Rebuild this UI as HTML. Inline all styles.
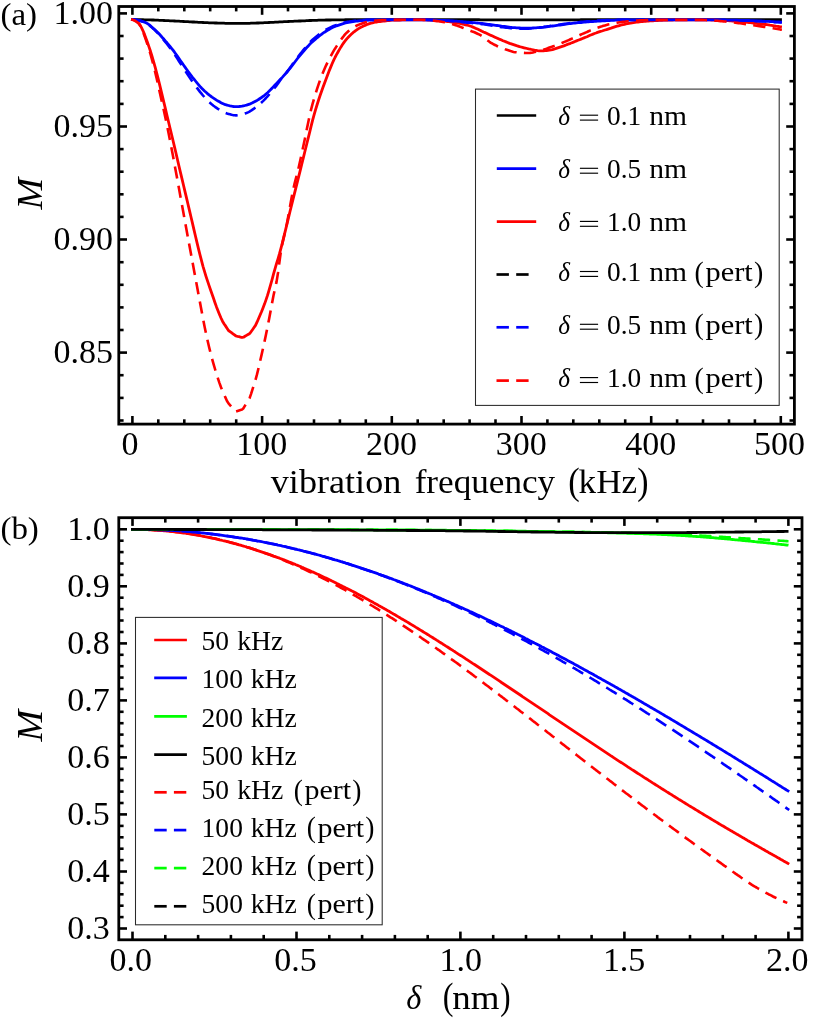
<!DOCTYPE html>
<html><head><meta charset="utf-8"><title>Figure</title>
<style>html,body{margin:0;padding:0;background:#fff;}svg{display:block;will-change:transform;}</style></head>
<body>
<svg width="830" height="1020" viewBox="0 0 830 1020" font-family='"Liberation Serif", serif' fill="#000">
<rect width="830" height="1020" fill="#fff"/>
<path d="M131.0 19.4 L132.5 19.5 L134.0 19.5 L135.5 19.6 L137.0 19.6 L138.5 19.6 L140.0 19.7 L141.5 19.7 L143.0 19.7 L144.5 19.8 L146.0 19.8 L147.5 19.8 L149.0 19.9 L150.5 19.9 L152.0 20.0 L153.5 20.0 L155.0 20.1 L156.5 20.2 L158.0 20.2 L159.5 20.3 L161.0 20.4 L162.5 20.4 L164.0 20.5 L165.5 20.6 L167.0 20.6 L168.5 20.7 L170.0 20.8 L171.5 20.8 L173.0 20.9 L174.5 21.0 L176.0 21.1 L177.5 21.2 L179.0 21.2 L180.5 21.3 L182.0 21.4 L183.5 21.5 L185.0 21.6 L186.5 21.6 L188.0 21.7 L189.5 21.8 L191.0 21.9 L192.5 22.0 L194.0 22.0 L195.5 22.1 L197.0 22.2 L198.5 22.3 L200.0 22.3 L201.5 22.4 L203.0 22.5 L204.5 22.6 L206.0 22.6 L207.5 22.7 L209.0 22.8 L210.5 22.8 L212.0 22.9 L213.5 22.9 L215.0 23.0 L216.5 23.0 L218.0 23.1 L219.5 23.1 L221.0 23.2 L222.5 23.2 L224.0 23.2 L225.5 23.3 L227.0 23.3 L228.5 23.3 L230.0 23.3 L231.5 23.4 L233.0 23.4 L234.5 23.4 L236.0 23.4 L237.5 23.4 L239.0 23.4 L240.5 23.4 L242.0 23.4 L243.5 23.4 L245.0 23.3 L246.5 23.3 L248.0 23.3 L249.5 23.3 L251.0 23.2 L252.5 23.2 L254.0 23.1 L255.5 23.1 L257.0 23.0 L258.5 23.0 L260.0 22.9 L261.5 22.9 L263.0 22.8 L264.5 22.7 L266.0 22.7 L267.5 22.6 L269.0 22.5 L270.5 22.4 L272.0 22.4 L273.5 22.3 L275.0 22.2 L276.5 22.1 L278.0 22.1 L279.5 21.9 L281.0 21.8 L282.5 21.8 L284.0 21.7 L285.5 21.6 L287.0 21.6 L288.5 21.5 L290.0 21.4 L291.5 21.3 L293.0 21.3 L294.5 21.2 L296.0 21.1 L297.5 21.1 L299.0 21.0 L300.5 21.0 L302.0 20.9 L303.5 20.8 L305.0 20.8 L306.5 20.7 L308.0 20.6 L309.5 20.5 L311.0 20.5 L312.5 20.4 L314.0 20.4 L315.5 20.3 L317.0 20.3 L318.5 20.2 L320.0 20.2 L321.5 20.2 L323.0 20.1 L324.5 20.1 L326.0 20.0 L327.5 20.0 L329.0 20.0 L330.5 20.0 L332.0 19.9 L333.5 19.9 L335.0 19.9 L336.5 19.9 L338.0 19.8 L339.5 19.8 L341.0 19.8 L342.5 19.8 L344.0 19.8 L345.5 19.7 L347.0 19.7 L348.5 19.7 L350.0 19.7 L351.5 19.7 L353.0 19.7 L354.5 19.7 L356.0 19.7 L357.5 19.7 L359.0 19.6 L360.5 19.6 L362.0 19.6 L363.5 19.6 L365.0 19.6 L366.5 19.6 L368.0 19.6 L369.5 19.6 L371.0 19.6 L372.5 19.6 L374.0 19.6 L375.5 19.6 L377.0 19.6 L378.5 19.6 L380.0 19.6 L381.5 19.6 L383.0 19.6 L384.5 19.6 L386.0 19.6 L387.5 19.6 L389.0 19.6 L390.5 19.6 L392.0 19.6 L393.5 19.6 L395.0 19.6 L396.5 19.6 L398.0 19.6 L399.5 19.6 L401.0 19.6 L402.5 19.6 L404.0 19.6 L405.5 19.6 L407.0 19.6 L408.5 19.6 L410.0 19.6 L411.5 19.6 L413.0 19.6 L414.5 19.6 L416.0 19.6 L417.5 19.6 L419.0 19.6 L420.5 19.6 L422.0 19.6 L423.5 19.6 L425.0 19.6 L426.5 19.6 L428.0 19.6 L429.5 19.6 L431.0 19.6 L432.5 19.6 L434.0 19.6 L435.5 19.6 L437.0 19.6 L438.5 19.6 L440.0 19.6 L441.5 19.6 L443.0 19.6 L444.5 19.6 L446.0 19.6 L447.5 19.6 L449.0 19.6 L450.5 19.6 L452.0 19.6 L453.5 19.6 L455.0 19.7 L456.5 19.7 L458.0 19.7 L459.5 19.7 L461.0 19.7 L462.5 19.7 L464.0 19.7 L465.5 19.7 L467.0 19.7 L468.5 19.7 L470.0 19.7 L471.5 19.7 L473.0 19.7 L474.5 19.7 L476.0 19.7 L477.5 19.7 L479.0 19.7 L480.5 19.8 L482.0 19.8 L483.5 19.8 L485.0 19.8 L486.5 19.8 L488.0 19.8 L489.5 19.8 L491.0 19.8 L492.5 19.8 L494.0 19.8 L495.5 19.8 L497.0 19.9 L498.5 19.9 L500.0 19.9 L501.5 19.9 L503.0 19.9 L504.5 19.9 L506.0 19.9 L507.5 19.9 L509.0 19.9 L510.5 19.9 L512.0 19.9 L513.5 19.9 L515.0 19.9 L516.5 19.9 L518.0 19.9 L519.5 19.9 L521.0 19.9 L522.5 19.9 L524.0 19.9 L525.5 19.9 L527.0 19.9 L528.5 19.9 L530.0 19.9 L531.5 19.9 L533.0 19.9 L534.5 19.9 L536.0 19.9 L537.5 19.9 L539.0 19.9 L540.5 19.9 L542.0 19.9 L543.5 19.9 L545.0 19.9 L546.5 19.9 L548.0 19.9 L549.5 19.9 L551.0 19.9 L552.5 19.9 L554.0 19.9 L555.5 19.9 L557.0 19.8 L558.5 19.8 L560.0 19.8 L561.5 19.8 L563.0 19.8 L564.5 19.8 L566.0 19.8 L567.5 19.8 L569.0 19.8 L570.5 19.8 L572.0 19.8 L573.5 19.8 L575.0 19.8 L576.5 19.8 L578.0 19.8 L579.5 19.8 L581.0 19.7 L582.5 19.7 L584.0 19.7 L585.5 19.7 L587.0 19.7 L588.5 19.7 L590.0 19.7 L591.5 19.7 L593.0 19.7 L594.5 19.7 L596.0 19.7 L597.5 19.7 L599.0 19.7 L600.5 19.7 L602.0 19.7 L603.5 19.7 L605.0 19.7 L606.5 19.7 L608.0 19.6 L609.5 19.6 L611.0 19.6 L612.5 19.6 L614.0 19.6 L615.5 19.6 L617.0 19.6 L618.5 19.6 L620.0 19.6 L621.5 19.6 L623.0 19.6 L624.5 19.6 L626.0 19.6 L627.5 19.6 L629.0 19.6 L630.5 19.6 L632.0 19.6 L633.5 19.6 L635.0 19.6 L636.5 19.6 L638.0 19.6 L639.5 19.6 L641.0 19.6 L642.5 19.6 L644.0 19.6 L645.5 19.6 L647.0 19.6 L648.5 19.6 L650.0 19.6 L651.5 19.6 L653.0 19.6 L654.5 19.6 L656.0 19.6 L657.5 19.6 L659.0 19.6 L660.5 19.6 L662.0 19.6 L663.5 19.6 L665.0 19.6 L666.5 19.6 L668.0 19.6 L669.5 19.6 L671.0 19.6 L672.5 19.6 L674.0 19.6 L675.5 19.6 L677.0 19.6 L678.5 19.6 L680.0 19.6 L681.5 19.6 L683.0 19.6 L684.5 19.6 L686.0 19.6 L687.5 19.6 L689.0 19.6 L690.5 19.6 L692.0 19.6 L693.5 19.6 L695.0 19.6 L696.5 19.6 L698.0 19.6 L699.5 19.6 L701.0 19.6 L702.5 19.6 L704.0 19.6 L705.5 19.6 L707.0 19.6 L708.5 19.6 L710.0 19.6 L711.5 19.6 L713.0 19.6 L714.5 19.6 L716.0 19.6 L717.5 19.6 L719.0 19.6 L720.5 19.6 L722.0 19.6 L723.5 19.6 L725.0 19.6 L726.5 19.6 L728.0 19.6 L729.5 19.6 L731.0 19.6 L732.5 19.6 L734.0 19.6 L735.5 19.6 L737.0 19.6 L738.5 19.6 L740.0 19.6 L741.5 19.6 L743.0 19.6 L744.5 19.6 L746.0 19.6 L747.5 19.6 L749.0 19.6 L750.5 19.7 L752.0 19.7 L753.5 19.7 L755.0 19.7 L756.5 19.7 L758.0 19.7 L759.5 19.7 L761.0 19.7 L762.5 19.7 L764.0 19.7 L765.5 19.7 L767.0 19.7 L768.5 19.7 L770.0 19.7 L771.5 19.7 L773.0 19.7 L774.5 19.7 L776.0 19.7 L777.5 19.7 L779.0 19.7 L780.5 19.7 L781.9 19.7" fill="none" stroke="#000000" stroke-width="2.8" stroke-linejoin="round"/>
<path d="M131.0 19.4 L132.5 19.6 L134.0 20.1 L135.5 20.9 L137.0 21.9 L138.5 23.0 L140.0 24.9 L141.5 27.7 L143.0 30.8 L144.5 34.4 L146.0 38.5 L147.5 42.6 L149.0 46.9 L150.5 51.3 L152.0 56.1 L153.5 61.3 L155.0 66.7 L156.5 72.4 L158.0 78.2 L159.5 84.2 L161.0 90.4 L162.5 96.6 L164.0 102.8 L165.5 109.1 L167.0 115.5 L168.5 121.8 L170.0 128.0 L171.5 134.3 L173.0 140.5 L174.5 146.9 L176.0 153.3 L177.5 159.7 L179.0 166.2 L180.5 172.6 L182.0 178.9 L183.5 185.3 L185.0 191.6 L186.5 197.9 L188.0 204.3 L189.5 210.6 L191.0 217.0 L192.5 223.4 L194.0 229.9 L195.5 236.3 L197.0 242.6 L198.5 248.8 L200.0 254.8 L201.5 260.7 L203.0 266.3 L204.5 271.4 L206.0 276.3 L207.5 280.9 L209.0 285.4 L210.5 289.8 L212.0 294.0 L213.5 298.3 L215.0 302.7 L216.5 306.9 L218.0 310.8 L219.5 314.5 L221.0 318.0 L222.5 321.2 L224.0 323.7 L225.5 325.9 L227.0 328.2 L228.5 330.5 L230.0 331.6 L231.5 332.7 L233.0 333.8 L234.5 334.9 L236.0 336.0 L237.5 336.4 L239.0 336.7 L240.5 337.1 L242.0 337.5 L243.5 337.2 L245.0 336.3 L246.5 335.4 L248.0 334.5 L249.5 333.7 L251.0 331.8 L252.5 329.7 L254.0 327.5 L255.5 325.4 L257.0 322.2 L258.5 318.7 L260.0 315.2 L261.5 311.8 L263.0 308.0 L264.5 304.1 L266.0 299.9 L267.5 295.4 L269.0 290.4 L270.5 285.1 L272.0 279.8 L273.5 274.2 L275.0 268.8 L276.5 263.7 L278.0 258.8 L279.5 253.7 L281.0 248.1 L282.5 242.3 L284.0 236.2 L285.5 230.1 L287.0 223.9 L288.5 217.6 L290.0 211.5 L291.5 205.5 L293.0 199.5 L294.5 193.4 L296.0 187.4 L297.5 181.4 L299.0 175.3 L300.5 169.3 L302.0 163.2 L303.5 157.1 L305.0 151.0 L306.5 145.0 L308.0 138.9 L309.5 132.8 L311.0 126.6 L312.5 120.7 L314.0 115.1 L315.5 109.9 L317.0 105.0 L318.5 100.3 L320.0 95.8 L321.5 91.5 L323.0 87.3 L324.5 83.2 L326.0 79.2 L327.5 75.2 L329.0 71.3 L330.5 67.6 L332.0 64.0 L333.5 60.6 L335.0 57.5 L336.5 54.7 L338.0 52.0 L339.5 49.4 L341.0 46.9 L342.5 44.6 L344.0 42.4 L345.5 40.4 L347.0 38.6 L348.5 37.0 L350.0 35.5 L351.5 34.1 L353.0 32.7 L354.5 31.5 L356.0 30.4 L357.5 29.3 L359.0 28.4 L360.5 27.5 L362.0 26.8 L363.5 26.0 L365.0 25.4 L366.5 24.7 L368.0 24.2 L369.5 23.7 L371.0 23.2 L372.5 22.9 L374.0 22.5 L375.5 22.2 L377.0 22.0 L378.5 21.7 L380.0 21.5 L381.5 21.3 L383.0 21.1 L384.5 21.0 L386.0 20.8 L387.5 20.6 L389.0 20.5 L390.5 20.3 L392.0 20.2 L393.5 20.1 L395.0 20.0 L396.5 20.0 L398.0 20.0 L399.5 20.0 L401.0 19.9 L402.5 19.9 L404.0 19.9 L405.5 19.9 L407.0 19.9 L408.5 19.8 L410.0 19.8 L411.5 19.8 L413.0 19.8 L414.5 19.8 L416.0 19.8 L417.5 19.8 L419.0 19.8 L420.5 19.8 L422.0 19.8 L423.5 19.8 L425.0 19.9 L426.5 19.9 L428.0 20.0 L429.5 20.1 L431.0 20.1 L432.5 20.2 L434.0 20.3 L435.5 20.4 L437.0 20.6 L438.5 20.7 L440.0 20.8 L441.5 20.9 L443.0 21.1 L444.5 21.2 L446.0 21.3 L447.5 21.5 L449.0 21.7 L450.5 21.9 L452.0 22.1 L453.5 22.3 L455.0 22.6 L456.5 22.8 L458.0 23.1 L459.5 23.4 L461.0 23.7 L462.5 24.1 L464.0 24.4 L465.5 24.8 L467.0 25.2 L468.5 25.5 L470.0 26.0 L471.5 26.5 L473.0 27.1 L474.5 27.7 L476.0 28.4 L477.5 29.1 L479.0 29.8 L480.5 30.5 L482.0 31.3 L483.5 32.0 L485.0 32.6 L486.5 33.3 L488.0 34.0 L489.5 34.7 L491.0 35.4 L492.5 36.0 L494.0 36.7 L495.5 37.4 L497.0 38.1 L498.5 38.7 L500.0 39.4 L501.5 40.0 L503.0 40.7 L504.5 41.3 L506.0 41.9 L507.5 42.5 L509.0 43.1 L510.5 43.7 L512.0 44.2 L513.5 44.7 L515.0 45.2 L516.5 45.7 L518.0 46.1 L519.5 46.6 L521.0 47.0 L522.5 47.4 L524.0 47.8 L525.5 48.2 L527.0 48.5 L528.5 48.9 L530.0 49.2 L531.5 49.5 L533.0 49.8 L534.5 50.1 L536.0 50.3 L537.5 50.6 L539.0 50.8 L540.5 50.9 L542.0 50.9 L543.5 50.8 L545.0 50.7 L546.5 50.6 L548.0 50.4 L549.5 50.2 L551.0 49.9 L552.5 49.6 L554.0 49.1 L555.5 48.7 L557.0 48.2 L558.5 47.7 L560.0 47.2 L561.5 46.7 L563.0 46.2 L564.5 45.6 L566.0 45.0 L567.5 44.4 L569.0 43.8 L570.5 43.3 L572.0 42.7 L573.5 42.1 L575.0 41.5 L576.5 40.9 L578.0 40.3 L579.5 39.7 L581.0 39.1 L582.5 38.5 L584.0 37.9 L585.5 37.3 L587.0 36.7 L588.5 36.0 L590.0 35.3 L591.5 34.7 L593.0 34.1 L594.5 33.5 L596.0 33.0 L597.5 32.4 L599.0 31.9 L600.5 31.4 L602.0 31.0 L603.5 30.5 L605.0 30.0 L606.5 29.6 L608.0 29.1 L609.5 28.6 L611.0 28.2 L612.5 27.7 L614.0 27.2 L615.5 26.7 L617.0 26.2 L618.5 25.8 L620.0 25.4 L621.5 25.0 L623.0 24.6 L624.5 24.3 L626.0 23.9 L627.5 23.6 L629.0 23.3 L630.5 23.1 L632.0 22.8 L633.5 22.6 L635.0 22.4 L636.5 22.2 L638.0 22.0 L639.5 21.8 L641.0 21.7 L642.5 21.5 L644.0 21.4 L645.5 21.3 L647.0 21.2 L648.5 21.0 L650.0 20.9 L651.5 20.8 L653.0 20.8 L654.5 20.7 L656.0 20.6 L657.5 20.5 L659.0 20.4 L660.5 20.3 L662.0 20.3 L663.5 20.2 L665.0 20.1 L666.5 20.1 L668.0 20.1 L669.5 20.0 L671.0 20.0 L672.5 20.0 L674.0 19.9 L675.5 19.9 L677.0 19.9 L678.5 19.8 L680.0 19.8 L681.5 19.8 L683.0 19.8 L684.5 19.8 L686.0 19.8 L687.5 19.8 L689.0 19.8 L690.5 19.8 L692.0 19.8 L693.5 19.8 L695.0 19.8 L696.5 19.8 L698.0 19.8 L699.5 19.8 L701.0 19.9 L702.5 19.9 L704.0 19.9 L705.5 19.9 L707.0 19.9 L708.5 19.9 L710.0 19.9 L711.5 20.0 L713.0 20.0 L714.5 20.0 L716.0 20.1 L717.5 20.2 L719.0 20.2 L720.5 20.3 L722.0 20.4 L723.5 20.4 L725.0 20.5 L726.5 20.6 L728.0 20.7 L729.5 20.8 L731.0 20.9 L732.5 21.0 L734.0 21.1 L735.5 21.2 L737.0 21.3 L738.5 21.4 L740.0 21.6 L741.5 21.7 L743.0 21.9 L744.5 22.0 L746.0 22.2 L747.5 22.4 L749.0 22.5 L750.5 22.7 L752.0 22.9 L753.5 23.0 L755.0 23.2 L756.5 23.4 L758.0 23.6 L759.5 23.7 L761.0 23.9 L762.5 24.1 L764.0 24.3 L765.5 24.5 L767.0 24.7 L768.5 24.9 L770.0 25.2 L771.5 25.4 L773.0 25.6 L774.5 25.8 L776.0 26.1 L777.5 26.3 L779.0 26.5 L780.5 26.8 L781.9 27.0" fill="none" stroke="#ff0000" stroke-width="2.8" stroke-linejoin="round"/>
<path d="M131.0 19.4 L132.5 19.4 L134.0 19.6 L135.5 19.8 L137.0 20.0 L138.5 20.4 L140.0 20.7 L141.5 21.2 L143.0 21.6 L144.5 22.1 L146.0 22.7 L147.5 23.6 L149.0 24.7 L150.5 25.9 L152.0 27.2 L153.5 28.5 L155.0 29.8 L156.5 31.2 L158.0 32.7 L159.5 34.3 L161.0 36.0 L162.5 37.7 L164.0 39.3 L165.5 41.1 L167.0 42.8 L168.5 44.6 L170.0 46.4 L171.5 48.3 L173.0 50.2 L174.5 52.2 L176.0 54.3 L177.5 56.4 L179.0 58.6 L180.5 60.7 L182.0 62.9 L183.5 65.0 L185.0 67.1 L186.5 69.2 L188.0 71.3 L189.5 73.3 L191.0 75.3 L192.5 77.3 L194.0 79.1 L195.5 81.0 L197.0 82.9 L198.5 84.7 L200.0 86.4 L201.5 88.0 L203.0 89.5 L204.5 91.0 L206.0 92.3 L207.5 93.6 L209.0 94.8 L210.5 96.0 L212.0 97.1 L213.5 98.1 L215.0 99.1 L216.5 100.1 L218.0 101.0 L219.5 101.8 L221.0 102.7 L222.5 103.4 L224.0 104.1 L225.5 104.7 L227.0 105.1 L228.5 105.5 L230.0 105.9 L231.5 106.2 L233.0 106.5 L234.5 106.7 L236.0 106.7 L237.5 106.6 L239.0 106.5 L240.5 106.3 L242.0 106.1 L243.5 105.8 L245.0 105.5 L246.5 105.2 L248.0 104.7 L249.5 104.2 L251.0 103.5 L252.5 102.8 L254.0 102.0 L255.5 101.2 L257.0 100.4 L258.5 99.5 L260.0 98.5 L261.5 97.5 L263.0 96.4 L264.5 95.3 L266.0 94.0 L267.5 92.7 L269.0 91.3 L270.5 89.8 L272.0 88.2 L273.5 86.6 L275.0 85.0 L276.5 83.5 L278.0 81.9 L279.5 80.3 L281.0 78.7 L282.5 77.1 L284.0 75.4 L285.5 73.7 L287.0 72.0 L288.5 70.2 L290.0 68.4 L291.5 66.5 L293.0 64.5 L294.5 62.5 L296.0 60.5 L297.5 58.5 L299.0 56.6 L300.5 54.8 L302.0 53.0 L303.5 51.3 L305.0 49.5 L306.5 47.8 L308.0 46.2 L309.5 44.6 L311.0 43.1 L312.5 41.7 L314.0 40.4 L315.5 39.1 L317.0 37.8 L318.5 36.6 L320.0 35.4 L321.5 34.3 L323.0 33.2 L324.5 32.2 L326.0 31.3 L327.5 30.4 L329.0 29.5 L330.5 28.6 L332.0 27.8 L333.5 27.1 L335.0 26.4 L336.5 25.8 L338.0 25.3 L339.5 24.8 L341.0 24.3 L342.5 23.8 L344.0 23.4 L345.5 23.0 L347.0 22.6 L348.5 22.3 L350.0 22.1 L351.5 21.8 L353.0 21.6 L354.5 21.3 L356.0 21.1 L357.5 21.0 L359.0 20.8 L360.5 20.7 L362.0 20.6 L363.5 20.4 L365.0 20.3 L366.5 20.2 L368.0 20.1 L369.5 20.1 L371.0 20.0 L372.5 20.0 L374.0 20.0 L375.5 20.0 L377.0 20.0 L378.5 19.9 L380.0 19.9 L381.5 19.9 L383.0 19.9 L384.5 19.9 L386.0 19.9 L387.5 19.9 L389.0 19.9 L390.5 19.9 L392.0 19.9 L393.5 19.9 L395.0 19.8 L396.5 19.8 L398.0 19.8 L399.5 19.8 L401.0 19.8 L402.5 19.8 L404.0 19.8 L405.5 19.8 L407.0 19.8 L408.5 19.8 L410.0 19.8 L411.5 19.8 L413.0 19.8 L414.5 19.8 L416.0 19.8 L417.5 19.8 L419.0 19.8 L420.5 19.8 L422.0 19.8 L423.5 19.8 L425.0 19.8 L426.5 19.9 L428.0 19.9 L429.5 19.9 L431.0 20.0 L432.5 20.0 L434.0 20.1 L435.5 20.1 L437.0 20.2 L438.5 20.3 L440.0 20.3 L441.5 20.4 L443.0 20.4 L444.5 20.5 L446.0 20.6 L447.5 20.6 L449.0 20.7 L450.5 20.8 L452.0 20.9 L453.5 21.0 L455.0 21.1 L456.5 21.2 L458.0 21.3 L459.5 21.4 L461.0 21.6 L462.5 21.7 L464.0 21.8 L465.5 21.9 L467.0 22.1 L468.5 22.2 L470.0 22.3 L471.5 22.4 L473.0 22.6 L474.5 22.7 L476.0 22.9 L477.5 23.0 L479.0 23.2 L480.5 23.4 L482.0 23.5 L483.5 23.7 L485.0 23.9 L486.5 24.1 L488.0 24.3 L489.5 24.5 L491.0 24.7 L492.5 24.9 L494.0 25.1 L495.5 25.3 L497.0 25.5 L498.5 25.7 L500.0 25.9 L501.5 26.2 L503.0 26.4 L504.5 26.5 L506.0 26.7 L507.5 26.9 L509.0 27.1 L510.5 27.3 L512.0 27.5 L513.5 27.6 L515.0 27.7 L516.5 27.8 L518.0 27.9 L519.5 28.0 L521.0 28.1 L522.5 28.1 L524.0 28.2 L525.5 28.2 L527.0 28.2 L528.5 28.2 L530.0 28.1 L531.5 28.1 L533.0 28.0 L534.5 27.9 L536.0 27.8 L537.5 27.7 L539.0 27.6 L540.5 27.5 L542.0 27.3 L543.5 27.2 L545.0 27.0 L546.5 26.8 L548.0 26.6 L549.5 26.4 L551.0 26.2 L552.5 26.0 L554.0 25.8 L555.5 25.6 L557.0 25.4 L558.5 25.2 L560.0 25.0 L561.5 24.8 L563.0 24.6 L564.5 24.3 L566.0 24.1 L567.5 23.9 L569.0 23.7 L570.5 23.6 L572.0 23.4 L573.5 23.2 L575.0 23.0 L576.5 22.9 L578.0 22.7 L579.5 22.6 L581.0 22.5 L582.5 22.3 L584.0 22.2 L585.5 22.1 L587.0 21.9 L588.5 21.8 L590.0 21.7 L591.5 21.6 L593.0 21.5 L594.5 21.4 L596.0 21.3 L597.5 21.2 L599.0 21.1 L600.5 21.0 L602.0 20.9 L603.5 20.8 L605.0 20.8 L606.5 20.7 L608.0 20.6 L609.5 20.5 L611.0 20.4 L612.5 20.4 L614.0 20.3 L615.5 20.2 L617.0 20.2 L618.5 20.1 L620.0 20.1 L621.5 20.0 L623.0 20.0 L624.5 20.0 L626.0 20.0 L627.5 20.0 L629.0 20.0 L630.5 20.0 L632.0 20.0 L633.5 20.0 L635.0 19.9 L636.5 19.9 L638.0 19.9 L639.5 19.9 L641.0 19.9 L642.5 19.9 L644.0 19.9 L645.5 19.9 L647.0 19.9 L648.5 19.9 L650.0 19.9 L651.5 19.9 L653.0 19.9 L654.5 19.9 L656.0 19.9 L657.5 19.9 L659.0 19.9 L660.5 19.8 L662.0 19.8 L663.5 19.8 L665.0 19.8 L666.5 19.8 L668.0 19.8 L669.5 19.8 L671.0 19.8 L672.5 19.8 L674.0 19.8 L675.5 19.8 L677.0 19.8 L678.5 19.8 L680.0 19.8 L681.5 19.8 L683.0 19.8 L684.5 19.8 L686.0 19.8 L687.5 19.8 L689.0 19.8 L690.5 19.8 L692.0 19.8 L693.5 19.8 L695.0 19.8 L696.5 19.8 L698.0 19.8 L699.5 19.8 L701.0 19.8 L702.5 19.8 L704.0 19.8 L705.5 19.8 L707.0 19.8 L708.5 19.8 L710.0 19.8 L711.5 19.9 L713.0 19.9 L714.5 19.9 L716.0 19.9 L717.5 19.9 L719.0 19.9 L720.5 20.0 L722.0 20.0 L723.5 20.0 L725.0 20.0 L726.5 20.1 L728.0 20.1 L729.5 20.1 L731.0 20.1 L732.5 20.2 L734.0 20.2 L735.5 20.2 L737.0 20.2 L738.5 20.3 L740.0 20.3 L741.5 20.3 L743.0 20.4 L744.5 20.4 L746.0 20.4 L747.5 20.5 L749.0 20.5 L750.5 20.6 L752.0 20.6 L753.5 20.7 L755.0 20.8 L756.5 20.8 L758.0 20.9 L759.5 21.0 L761.0 21.0 L762.5 21.1 L764.0 21.2 L765.5 21.3 L767.0 21.3 L768.5 21.4 L770.0 21.5 L771.5 21.6 L773.0 21.7 L774.5 21.8 L776.0 21.8 L777.5 21.9 L779.0 22.0 L780.5 22.1 L781.9 22.2" fill="none" stroke="#0000ff" stroke-width="2.8" stroke-linejoin="round"/>
<path d="M131.0 19.4 L132.5 19.4 L134.0 19.6 L135.5 19.8 L137.0 20.1 L138.5 20.4 L140.0 20.8 L141.5 21.2 L143.0 21.7 L144.5 22.2 L146.0 22.9 L147.5 23.8 L149.0 25.0 L150.5 26.2 L152.0 27.6 L153.5 28.9 L155.0 30.3 L156.5 31.8 L158.0 33.4 L159.5 35.1 L161.0 36.9 L162.5 38.6 L164.0 40.3 L165.5 42.1 L167.0 43.9 L168.5 45.9 L170.0 47.9 L171.5 49.9 L173.0 52.0 L174.5 54.2 L176.0 56.5 L177.5 58.8 L179.0 61.2 L180.5 63.5 L182.0 65.9 L183.5 68.2 L185.0 70.5 L186.5 72.8 L188.0 75.1 L189.5 77.4 L191.0 79.6 L192.5 81.7 L194.0 83.8 L195.5 85.8 L197.0 87.9 L198.5 89.9 L200.0 91.9 L201.5 93.7 L203.0 95.5 L204.5 97.2 L206.0 98.9 L207.5 100.4 L209.0 101.9 L210.5 103.2 L212.0 104.5 L213.5 105.7 L215.0 106.8 L216.5 107.8 L218.0 108.8 L219.5 109.7 L221.0 110.6 L222.5 111.5 L224.0 112.2 L225.5 112.9 L227.0 113.5 L228.5 113.9 L230.0 114.3 L231.5 114.8 L233.0 115.1 L234.5 115.3 L236.0 115.4 L237.5 115.2 L239.0 115.0 L240.5 114.7 L242.0 114.4 L243.5 114.0 L245.0 113.5 L246.5 113.0 L248.0 112.4 L249.5 111.6 L251.0 110.7 L252.5 109.6 L254.0 108.6 L255.5 107.5 L257.0 106.4 L258.5 105.2 L260.0 103.9 L261.5 102.5 L263.0 101.1 L264.5 99.6 L266.0 98.0 L267.5 96.3 L269.0 94.6 L270.5 92.8 L272.0 90.9 L273.5 89.1 L275.0 87.3 L276.5 85.6 L278.0 83.5 L279.5 81.2 L281.0 79.0 L282.5 77.2 L284.0 75.5 L285.5 73.8 L287.0 71.9 L288.5 69.9 L290.0 67.8 L291.5 65.7 L293.0 63.5 L294.5 61.4 L296.0 59.4 L297.5 57.5 L299.0 55.5 L300.5 53.6 L302.0 51.8 L303.5 49.9 L305.0 48.1 L306.5 46.2 L308.0 44.4 L309.5 42.8 L311.0 41.2 L312.5 39.8 L314.0 38.5 L315.5 37.2 L317.0 36.0 L318.5 34.8 L320.0 33.6 L321.5 32.5 L323.0 31.5 L324.5 30.6 L326.0 29.7 L327.5 28.9 L329.0 28.1 L330.5 27.4 L332.0 26.7 L333.5 26.0 L335.0 25.4 L336.5 24.9 L338.0 24.4 L339.5 23.9 L341.0 23.4 L342.5 23.0 L344.0 22.6 L345.5 22.2 L347.0 21.9 L348.5 21.7 L350.0 21.4 L351.5 21.2 L353.0 21.0 L354.5 20.8 L356.0 20.6 L357.5 20.5 L359.0 20.4 L360.5 20.3 L362.0 20.2 L363.5 20.1 L365.0 20.0 L366.5 19.9 L368.0 19.9 L369.5 19.8 L371.0 19.8 L372.5 19.8 L374.0 19.8 L375.5 19.8 L377.0 19.8 L378.5 19.8 L380.0 19.8 L381.5 19.8 L383.0 19.8 L384.5 19.8 L386.0 19.8 L387.5 19.8 L389.0 19.8 L390.5 19.8 L392.0 19.8 L393.5 19.8 L395.0 19.8 L396.5 19.8 L398.0 19.8 L399.5 19.8 L401.0 19.8 L402.5 19.8 L404.0 19.8 L405.5 19.8 L407.0 19.8 L408.5 19.8 L410.0 19.8 L411.5 19.8 L413.0 19.8 L414.5 19.8 L416.0 19.8 L417.5 19.8 L419.0 19.8 L420.5 19.8 L422.0 19.8 L423.5 19.8 L425.0 19.8 L426.5 19.9 L428.0 19.9 L429.5 20.0 L431.0 20.0 L432.5 20.1 L434.0 20.1 L435.5 20.2 L437.0 20.3 L438.5 20.3 L440.0 20.4 L441.5 20.5 L443.0 20.5 L444.5 20.6 L446.0 20.7 L447.5 20.8 L449.0 20.9 L450.5 21.0 L452.0 21.1 L453.5 21.2 L455.0 21.4 L456.5 21.5 L458.0 21.7 L459.5 21.8 L461.0 21.9 L462.5 22.1 L464.0 22.3 L465.5 22.4 L467.0 22.6 L468.5 22.7 L470.0 22.8 L471.5 23.0 L473.0 23.1 L474.5 23.3 L476.0 23.4 L477.5 23.6 L479.0 23.7 L480.5 23.9 L482.0 24.1 L483.5 24.3 L485.0 24.5 L486.5 24.8 L488.0 25.0 L489.5 25.3 L491.0 25.5 L492.5 25.7 L494.0 26.0 L495.5 26.2 L497.0 26.4 L498.5 26.6 L500.0 26.9 L501.5 27.1 L503.0 27.3 L504.5 27.4 L506.0 27.6 L507.5 27.8 L509.0 28.0 L510.5 28.1 L512.0 28.3 L513.5 28.4 L515.0 28.5 L516.5 28.6 L518.0 28.6 L519.5 28.7 L521.0 28.7 L522.5 28.8 L524.0 28.8 L525.5 28.8 L527.0 28.7 L528.5 28.6 L530.0 28.5 L531.5 28.4 L533.0 28.3 L534.5 28.1 L536.0 28.0 L537.5 27.8 L539.0 27.6 L540.5 27.4 L542.0 27.3 L543.5 27.1 L545.0 26.8 L546.5 26.6 L548.0 26.3 L549.5 26.1 L551.0 25.8 L552.5 25.6 L554.0 25.4 L555.5 25.2 L557.0 25.0 L558.5 24.8 L560.0 24.6 L561.5 24.3 L563.0 24.1 L564.5 23.9 L566.0 23.7 L567.5 23.5 L569.0 23.3 L570.5 23.1 L572.0 22.9 L573.5 22.7 L575.0 22.5 L576.5 22.4 L578.0 22.2 L579.5 22.1 L581.0 21.9 L582.5 21.8 L584.0 21.7 L585.5 21.5 L587.0 21.4 L588.5 21.3 L590.0 21.2 L591.5 21.0 L593.0 20.9 L594.5 20.8 L596.0 20.7 L597.5 20.6 L599.0 20.5 L600.5 20.5 L602.0 20.4 L603.5 20.3 L605.0 20.2 L606.5 20.1 L608.0 20.1 L609.5 20.0 L611.0 19.9 L612.5 19.9 L614.0 19.8 L615.5 19.8 L617.0 19.8 L618.5 19.7 L620.0 19.7 L621.5 19.7 L623.0 19.7 L624.5 19.7 L626.0 19.7 L627.5 19.7 L629.0 19.7 L630.5 19.7 L632.0 19.7 L633.5 19.7 L635.0 19.8 L636.5 19.8 L638.0 19.8 L639.5 19.8 L641.0 19.8 L642.5 19.8 L644.0 19.8 L645.5 19.8 L647.0 19.8 L648.5 19.8 L650.0 19.8 L651.5 19.8 L653.0 19.8 L654.5 19.8 L656.0 19.8 L657.5 19.8 L659.0 19.8 L660.5 19.8 L662.0 19.8 L663.5 19.8 L665.0 19.8 L666.5 19.8 L668.0 19.8 L669.5 19.8 L671.0 19.8 L672.5 19.8 L674.0 19.8 L675.5 19.8 L677.0 19.8 L678.5 19.8 L680.0 19.8 L681.5 19.8 L683.0 19.8 L684.5 19.8 L686.0 19.8 L687.5 19.8 L689.0 19.8 L690.5 19.8 L692.0 19.8 L693.5 19.8 L695.0 19.8 L696.5 19.8 L698.0 19.8 L699.5 19.8 L701.0 19.8 L702.5 19.8 L704.0 19.8 L705.5 19.8 L707.0 19.8 L708.5 19.9 L710.0 19.9 L711.5 19.9 L713.0 19.9 L714.5 19.9 L716.0 20.0 L717.5 20.0 L719.0 20.0 L720.5 20.1 L722.0 20.1 L723.5 20.1 L725.0 20.1 L726.5 20.2 L728.0 20.2 L729.5 20.2 L731.0 20.3 L732.5 20.3 L734.0 20.3 L735.5 20.4 L737.0 20.4 L738.5 20.5 L740.0 20.5 L741.5 20.5 L743.0 20.6 L744.5 20.6 L746.0 20.7 L747.5 20.7 L749.0 20.8 L750.5 20.8 L752.0 20.9 L753.5 21.0 L755.0 21.0 L756.5 21.1 L758.0 21.2 L759.5 21.2 L761.0 21.3 L762.5 21.4 L764.0 21.5 L765.5 21.5 L767.0 21.6 L768.5 21.7 L770.0 21.8 L771.5 21.9 L773.0 22.0 L774.5 22.1 L776.0 22.2 L777.5 22.2 L779.0 22.3 L780.5 22.4 L781.9 22.5" fill="none" stroke="#0000ff" stroke-width="2.6" stroke-linejoin="round" stroke-dasharray="12.3 7.3" stroke-dashoffset="0"/>
<path d="M131.0 19.4 L132.5 19.6 L134.0 20.2 L135.5 21.0 L137.0 22.1 L138.5 23.3 L140.0 25.5 L141.5 28.5 L143.0 31.8 L144.5 35.8 L146.0 40.1 L147.5 44.5 L149.0 49.1 L150.5 54.2 L152.0 59.6 L153.5 65.4 L155.0 71.4 L156.5 77.7 L158.0 84.4 L159.5 91.2 L161.0 97.9 L162.5 104.6 L164.0 111.3 L165.5 118.1 L167.0 125.3 L168.5 132.8 L170.0 140.5 L171.5 148.2 L173.0 156.1 L174.5 164.2 L176.0 172.3 L177.5 180.4 L179.0 188.6 L180.5 196.9 L182.0 205.1 L183.5 213.3 L185.0 221.6 L186.5 229.8 L188.0 237.9 L189.5 246.0 L191.0 254.0 L192.5 262.1 L194.0 270.2 L195.5 278.2 L197.0 286.3 L198.5 294.4 L200.0 302.4 L201.5 310.4 L203.0 318.4 L204.5 326.2 L206.0 333.4 L207.5 340.2 L209.0 346.7 L210.5 352.8 L212.0 358.5 L213.5 363.9 L215.0 369.0 L216.5 373.9 L218.0 378.6 L219.5 383.1 L221.0 387.2 L222.5 391.0 L224.0 394.3 L225.5 397.6 L227.0 401.0 L228.5 403.4 L230.0 405.1 L231.5 406.8 L233.0 408.6 L234.5 410.4 L236.0 411.5 L237.5 411.0 L239.0 410.5 L240.5 410.0 L242.0 409.6 L243.5 408.2 L245.0 405.6 L246.5 403.1 L248.0 400.7 L249.5 398.4 L251.0 394.1 L252.5 389.3 L254.0 384.5 L255.5 379.8 L257.0 374.4 L258.5 368.2 L260.0 361.7 L261.5 355.1 L263.0 348.5 L264.5 341.6 L266.0 334.4 L267.5 327.0 L269.0 319.4 L270.5 311.6 L272.0 303.4 L273.5 295.5 L275.0 288.7 L276.5 282.1 L278.0 272.9 L279.5 261.5 L281.0 250.7 L282.5 242.9 L284.0 236.6 L285.5 230.3 L287.0 223.2 L288.5 215.1 L290.0 206.6 L291.5 198.3 L293.0 190.5 L294.5 183.9 L296.0 178.1 L297.5 172.3 L299.0 166.0 L300.5 159.2 L302.0 152.3 L303.5 145.3 L305.0 138.2 L306.5 130.8 L308.0 123.4 L309.5 116.4 L311.0 109.9 L312.5 104.2 L314.0 98.9 L315.5 93.9 L317.0 89.1 L318.5 84.6 L320.0 80.3 L321.5 76.3 L323.0 72.5 L324.5 69.0 L326.0 65.6 L327.5 62.4 L329.0 59.4 L330.5 56.5 L332.0 53.8 L333.5 51.2 L335.0 48.7 L336.5 46.4 L338.0 44.1 L339.5 41.8 L341.0 39.6 L342.5 37.6 L344.0 35.7 L345.5 33.9 L347.0 32.4 L348.5 31.1 L350.0 29.9 L351.5 28.8 L353.0 27.8 L354.5 26.8 L356.0 26.0 L357.5 25.2 L359.0 24.6 L360.5 24.0 L362.0 23.5 L363.5 23.0 L365.0 22.5 L366.5 22.1 L368.0 21.8 L369.5 21.5 L371.0 21.2 L372.5 21.0 L374.0 20.8 L375.5 20.6 L377.0 20.5 L378.5 20.3 L380.0 20.2 L381.5 20.1 L383.0 20.0 L384.5 20.0 L386.0 20.0 L387.5 20.0 L389.0 19.9 L390.5 19.9 L392.0 19.9 L393.5 19.9 L395.0 19.9 L396.5 19.9 L398.0 19.9 L399.5 19.9 L401.0 19.9 L402.5 19.8 L404.0 19.8 L405.5 19.8 L407.0 19.8 L408.5 19.8 L410.0 19.8 L411.5 19.8 L413.0 19.8 L414.5 19.8 L416.0 19.8 L417.5 19.8 L419.0 19.8 L420.5 19.8 L422.0 19.8 L423.5 19.9 L425.0 19.9 L426.5 20.0 L428.0 20.1 L429.5 20.2 L431.0 20.4 L432.5 20.5 L434.0 20.7 L435.5 20.9 L437.0 21.1 L438.5 21.3 L440.0 21.5 L441.5 21.7 L443.0 22.0 L444.5 22.2 L446.0 22.4 L447.5 22.7 L449.0 23.1 L450.5 23.5 L452.0 23.9 L453.5 24.4 L455.0 24.9 L456.5 25.4 L458.0 26.0 L459.5 26.5 L461.0 27.1 L462.5 27.7 L464.0 28.3 L465.5 28.9 L467.0 29.5 L468.5 30.0 L470.0 30.6 L471.5 31.2 L473.0 31.7 L474.5 32.3 L476.0 33.0 L477.5 33.7 L479.0 34.4 L480.5 35.2 L482.0 36.1 L483.5 37.2 L485.0 38.3 L486.5 39.5 L488.0 40.7 L489.5 41.8 L491.0 42.8 L492.5 43.7 L494.0 44.5 L495.5 45.2 L497.0 46.0 L498.5 46.7 L500.0 47.3 L501.5 47.9 L503.0 48.5 L504.5 49.0 L506.0 49.6 L507.5 50.1 L509.0 50.6 L510.5 51.1 L512.0 51.5 L513.5 51.9 L515.0 52.2 L516.5 52.3 L518.0 52.5 L519.5 52.6 L521.0 52.7 L522.5 52.8 L524.0 52.9 L525.5 53.0 L527.0 53.0 L528.5 53.0 L530.0 52.9 L531.5 52.7 L533.0 52.4 L534.5 52.1 L536.0 51.7 L537.5 51.3 L539.0 50.9 L540.5 50.5 L542.0 50.1 L543.5 49.7 L545.0 49.2 L546.5 48.7 L548.0 48.1 L549.5 47.6 L551.0 47.1 L552.5 46.5 L554.0 46.0 L555.5 45.4 L557.0 44.9 L558.5 44.3 L560.0 43.7 L561.5 43.1 L563.0 42.5 L564.5 41.9 L566.0 41.3 L567.5 40.6 L569.0 40.0 L570.5 39.3 L572.0 38.6 L573.5 37.9 L575.0 37.2 L576.5 36.5 L578.0 35.9 L579.5 35.2 L581.0 34.5 L582.5 33.9 L584.0 33.3 L585.5 32.6 L587.0 32.0 L588.5 31.3 L590.0 30.6 L591.5 30.0 L593.0 29.4 L594.5 28.8 L596.0 28.2 L597.5 27.7 L599.0 27.2 L600.5 26.7 L602.0 26.3 L603.5 25.8 L605.0 25.4 L606.5 25.0 L608.0 24.6 L609.5 24.3 L611.0 23.9 L612.5 23.6 L614.0 23.3 L615.5 23.0 L617.0 22.7 L618.5 22.5 L620.0 22.3 L621.5 22.1 L623.0 21.9 L624.5 21.7 L626.0 21.5 L627.5 21.3 L629.0 21.2 L630.5 21.0 L632.0 20.9 L633.5 20.8 L635.0 20.7 L636.5 20.6 L638.0 20.5 L639.5 20.4 L641.0 20.3 L642.5 20.3 L644.0 20.2 L645.5 20.1 L647.0 20.1 L648.5 20.0 L650.0 20.0 L651.5 19.9 L653.0 19.9 L654.5 19.9 L656.0 19.9 L657.5 19.9 L659.0 19.9 L660.5 19.9 L662.0 19.9 L663.5 19.9 L665.0 19.9 L666.5 19.9 L668.0 19.9 L669.5 19.9 L671.0 19.9 L672.5 19.9 L674.0 19.9 L675.5 19.9 L677.0 19.9 L678.5 19.9 L680.0 19.9 L681.5 19.9 L683.0 19.9 L684.5 19.9 L686.0 19.9 L687.5 19.9 L689.0 19.9 L690.5 19.9 L692.0 19.9 L693.5 19.9 L695.0 19.9 L696.5 19.9 L698.0 19.9 L699.5 19.9 L701.0 19.9 L702.5 19.9 L704.0 20.0 L705.5 20.0 L707.0 20.1 L708.5 20.2 L710.0 20.3 L711.5 20.4 L713.0 20.5 L714.5 20.6 L716.0 20.7 L717.5 20.8 L719.0 21.0 L720.5 21.1 L722.0 21.2 L723.5 21.4 L725.0 21.5 L726.5 21.6 L728.0 21.8 L729.5 21.9 L731.0 22.1 L732.5 22.3 L734.0 22.5 L735.5 22.7 L737.0 22.9 L738.5 23.1 L740.0 23.3 L741.5 23.5 L743.0 23.7 L744.5 23.9 L746.0 24.2 L747.5 24.4 L749.0 24.6 L750.5 24.8 L752.0 25.1 L753.5 25.3 L755.0 25.5 L756.5 25.7 L758.0 25.9 L759.5 26.2 L761.0 26.4 L762.5 26.6 L764.0 26.9 L765.5 27.1 L767.0 27.3 L768.5 27.6 L770.0 27.8 L771.5 28.1 L773.0 28.3 L774.5 28.5 L776.0 28.8 L777.5 29.0 L779.0 29.3 L780.5 29.6 L781.9 29.8" fill="none" stroke="#ff0000" stroke-width="2.6" stroke-linejoin="round" stroke-dasharray="12.3 7.3" stroke-dashoffset="0"/>
<rect x="118.8" y="6.5" width="675.6" height="417.6" fill="none" stroke="#000" stroke-width="2.8"/>
<line x1="158.3" y1="424.2" x2="158.3" y2="419.3" stroke="#000" stroke-width="2.6"/>
<line x1="158.3" y1="6.5" x2="158.3" y2="11.4" stroke="#000" stroke-width="2.6"/>
<line x1="184.3" y1="424.2" x2="184.3" y2="419.3" stroke="#000" stroke-width="2.6"/>
<line x1="184.3" y1="6.5" x2="184.3" y2="11.4" stroke="#000" stroke-width="2.6"/>
<line x1="210.2" y1="424.2" x2="210.2" y2="419.3" stroke="#000" stroke-width="2.6"/>
<line x1="210.2" y1="6.5" x2="210.2" y2="11.4" stroke="#000" stroke-width="2.6"/>
<line x1="236.2" y1="424.2" x2="236.2" y2="419.3" stroke="#000" stroke-width="2.6"/>
<line x1="236.2" y1="6.5" x2="236.2" y2="11.4" stroke="#000" stroke-width="2.6"/>
<line x1="288.0" y1="424.2" x2="288.0" y2="419.3" stroke="#000" stroke-width="2.6"/>
<line x1="288.0" y1="6.5" x2="288.0" y2="11.4" stroke="#000" stroke-width="2.6"/>
<line x1="314.0" y1="424.2" x2="314.0" y2="419.3" stroke="#000" stroke-width="2.6"/>
<line x1="314.0" y1="6.5" x2="314.0" y2="11.4" stroke="#000" stroke-width="2.6"/>
<line x1="339.9" y1="424.2" x2="339.9" y2="419.3" stroke="#000" stroke-width="2.6"/>
<line x1="339.9" y1="6.5" x2="339.9" y2="11.4" stroke="#000" stroke-width="2.6"/>
<line x1="365.8" y1="424.2" x2="365.8" y2="419.3" stroke="#000" stroke-width="2.6"/>
<line x1="365.8" y1="6.5" x2="365.8" y2="11.4" stroke="#000" stroke-width="2.6"/>
<line x1="417.7" y1="424.2" x2="417.7" y2="419.3" stroke="#000" stroke-width="2.6"/>
<line x1="417.7" y1="6.5" x2="417.7" y2="11.4" stroke="#000" stroke-width="2.6"/>
<line x1="443.7" y1="424.2" x2="443.7" y2="419.3" stroke="#000" stroke-width="2.6"/>
<line x1="443.7" y1="6.5" x2="443.7" y2="11.4" stroke="#000" stroke-width="2.6"/>
<line x1="469.6" y1="424.2" x2="469.6" y2="419.3" stroke="#000" stroke-width="2.6"/>
<line x1="469.6" y1="6.5" x2="469.6" y2="11.4" stroke="#000" stroke-width="2.6"/>
<line x1="495.5" y1="424.2" x2="495.5" y2="419.3" stroke="#000" stroke-width="2.6"/>
<line x1="495.5" y1="6.5" x2="495.5" y2="11.4" stroke="#000" stroke-width="2.6"/>
<line x1="547.4" y1="424.2" x2="547.4" y2="419.3" stroke="#000" stroke-width="2.6"/>
<line x1="547.4" y1="6.5" x2="547.4" y2="11.4" stroke="#000" stroke-width="2.6"/>
<line x1="573.3" y1="424.2" x2="573.3" y2="419.3" stroke="#000" stroke-width="2.6"/>
<line x1="573.3" y1="6.5" x2="573.3" y2="11.4" stroke="#000" stroke-width="2.6"/>
<line x1="599.3" y1="424.2" x2="599.3" y2="419.3" stroke="#000" stroke-width="2.6"/>
<line x1="599.3" y1="6.5" x2="599.3" y2="11.4" stroke="#000" stroke-width="2.6"/>
<line x1="625.2" y1="424.2" x2="625.2" y2="419.3" stroke="#000" stroke-width="2.6"/>
<line x1="625.2" y1="6.5" x2="625.2" y2="11.4" stroke="#000" stroke-width="2.6"/>
<line x1="677.1" y1="424.2" x2="677.1" y2="419.3" stroke="#000" stroke-width="2.6"/>
<line x1="677.1" y1="6.5" x2="677.1" y2="11.4" stroke="#000" stroke-width="2.6"/>
<line x1="703.0" y1="424.2" x2="703.0" y2="419.3" stroke="#000" stroke-width="2.6"/>
<line x1="703.0" y1="6.5" x2="703.0" y2="11.4" stroke="#000" stroke-width="2.6"/>
<line x1="729.0" y1="424.2" x2="729.0" y2="419.3" stroke="#000" stroke-width="2.6"/>
<line x1="729.0" y1="6.5" x2="729.0" y2="11.4" stroke="#000" stroke-width="2.6"/>
<line x1="754.9" y1="424.2" x2="754.9" y2="419.3" stroke="#000" stroke-width="2.6"/>
<line x1="754.9" y1="6.5" x2="754.9" y2="11.4" stroke="#000" stroke-width="2.6"/>
<line x1="132.4" y1="424.2" x2="132.4" y2="416.0" stroke="#000" stroke-width="2.6"/>
<line x1="132.4" y1="6.5" x2="132.4" y2="14.8" stroke="#000" stroke-width="2.6"/>
<line x1="262.1" y1="424.2" x2="262.1" y2="416.0" stroke="#000" stroke-width="2.6"/>
<line x1="262.1" y1="6.5" x2="262.1" y2="14.8" stroke="#000" stroke-width="2.6"/>
<line x1="391.8" y1="424.2" x2="391.8" y2="416.0" stroke="#000" stroke-width="2.6"/>
<line x1="391.8" y1="6.5" x2="391.8" y2="14.8" stroke="#000" stroke-width="2.6"/>
<line x1="521.5" y1="424.2" x2="521.5" y2="416.0" stroke="#000" stroke-width="2.6"/>
<line x1="521.5" y1="6.5" x2="521.5" y2="14.8" stroke="#000" stroke-width="2.6"/>
<line x1="651.2" y1="424.2" x2="651.2" y2="416.0" stroke="#000" stroke-width="2.6"/>
<line x1="651.2" y1="6.5" x2="651.2" y2="14.8" stroke="#000" stroke-width="2.6"/>
<line x1="780.8" y1="424.2" x2="780.8" y2="416.0" stroke="#000" stroke-width="2.6"/>
<line x1="780.8" y1="6.5" x2="780.8" y2="14.8" stroke="#000" stroke-width="2.6"/>
<line x1="118.8" y1="36.0" x2="123.6" y2="36.0" stroke="#000" stroke-width="2.6"/>
<line x1="794.4" y1="36.0" x2="789.5" y2="36.0" stroke="#000" stroke-width="2.6"/>
<line x1="118.8" y1="58.6" x2="123.6" y2="58.6" stroke="#000" stroke-width="2.6"/>
<line x1="794.4" y1="58.6" x2="789.5" y2="58.6" stroke="#000" stroke-width="2.6"/>
<line x1="118.8" y1="81.2" x2="123.6" y2="81.2" stroke="#000" stroke-width="2.6"/>
<line x1="794.4" y1="81.2" x2="789.5" y2="81.2" stroke="#000" stroke-width="2.6"/>
<line x1="118.8" y1="103.9" x2="123.6" y2="103.9" stroke="#000" stroke-width="2.6"/>
<line x1="794.4" y1="103.9" x2="789.5" y2="103.9" stroke="#000" stroke-width="2.6"/>
<line x1="118.8" y1="149.1" x2="123.6" y2="149.1" stroke="#000" stroke-width="2.6"/>
<line x1="794.4" y1="149.1" x2="789.5" y2="149.1" stroke="#000" stroke-width="2.6"/>
<line x1="118.8" y1="171.7" x2="123.6" y2="171.7" stroke="#000" stroke-width="2.6"/>
<line x1="794.4" y1="171.7" x2="789.5" y2="171.7" stroke="#000" stroke-width="2.6"/>
<line x1="118.8" y1="194.3" x2="123.6" y2="194.3" stroke="#000" stroke-width="2.6"/>
<line x1="794.4" y1="194.3" x2="789.5" y2="194.3" stroke="#000" stroke-width="2.6"/>
<line x1="118.8" y1="216.9" x2="123.6" y2="216.9" stroke="#000" stroke-width="2.6"/>
<line x1="794.4" y1="216.9" x2="789.5" y2="216.9" stroke="#000" stroke-width="2.6"/>
<line x1="118.8" y1="262.2" x2="123.6" y2="262.2" stroke="#000" stroke-width="2.6"/>
<line x1="794.4" y1="262.2" x2="789.5" y2="262.2" stroke="#000" stroke-width="2.6"/>
<line x1="118.8" y1="284.8" x2="123.6" y2="284.8" stroke="#000" stroke-width="2.6"/>
<line x1="794.4" y1="284.8" x2="789.5" y2="284.8" stroke="#000" stroke-width="2.6"/>
<line x1="118.8" y1="307.4" x2="123.6" y2="307.4" stroke="#000" stroke-width="2.6"/>
<line x1="794.4" y1="307.4" x2="789.5" y2="307.4" stroke="#000" stroke-width="2.6"/>
<line x1="118.8" y1="330.0" x2="123.6" y2="330.0" stroke="#000" stroke-width="2.6"/>
<line x1="794.4" y1="330.0" x2="789.5" y2="330.0" stroke="#000" stroke-width="2.6"/>
<line x1="118.8" y1="375.2" x2="123.6" y2="375.2" stroke="#000" stroke-width="2.6"/>
<line x1="794.4" y1="375.2" x2="789.5" y2="375.2" stroke="#000" stroke-width="2.6"/>
<line x1="118.8" y1="397.9" x2="123.6" y2="397.9" stroke="#000" stroke-width="2.6"/>
<line x1="794.4" y1="397.9" x2="789.5" y2="397.9" stroke="#000" stroke-width="2.6"/>
<line x1="118.8" y1="420.5" x2="123.6" y2="420.5" stroke="#000" stroke-width="2.6"/>
<line x1="794.4" y1="420.5" x2="789.5" y2="420.5" stroke="#000" stroke-width="2.6"/>
<line x1="118.8" y1="13.4" x2="127.0" y2="13.4" stroke="#000" stroke-width="2.6"/>
<line x1="794.4" y1="13.4" x2="786.2" y2="13.4" stroke="#000" stroke-width="2.6"/>
<line x1="118.8" y1="126.5" x2="127.0" y2="126.5" stroke="#000" stroke-width="2.6"/>
<line x1="794.4" y1="126.5" x2="786.2" y2="126.5" stroke="#000" stroke-width="2.6"/>
<line x1="118.8" y1="239.5" x2="127.0" y2="239.5" stroke="#000" stroke-width="2.6"/>
<line x1="794.4" y1="239.5" x2="786.2" y2="239.5" stroke="#000" stroke-width="2.6"/>
<line x1="118.8" y1="352.6" x2="127.0" y2="352.6" stroke="#000" stroke-width="2.6"/>
<line x1="794.4" y1="352.6" x2="786.2" y2="352.6" stroke="#000" stroke-width="2.6"/>
<text transform="translate(112.90 23.80) scale(1 1.020)" font-size="34" text-anchor="end">1.00</text>
<text transform="translate(112.90 136.88) scale(1 1.020)" font-size="34" text-anchor="end">0.95</text>
<text transform="translate(112.90 249.95) scale(1 1.020)" font-size="34" text-anchor="end">0.90</text>
<text transform="translate(112.90 363.02) scale(1 1.020)" font-size="34" text-anchor="end">0.85</text>
<text transform="translate(130.00 455.20) scale(1 1.020)" font-size="34" text-anchor="middle">0</text>
<text transform="translate(261.79 455.20) scale(1 1.020)" font-size="34" text-anchor="middle">100</text>
<text transform="translate(391.48 455.20) scale(1 1.020)" font-size="34" text-anchor="middle">200</text>
<text transform="translate(521.17 455.20) scale(1 1.020)" font-size="34" text-anchor="middle">300</text>
<text transform="translate(650.86 455.20) scale(1 1.020)" font-size="34" text-anchor="middle">400</text>
<text transform="translate(779.55 455.20) scale(1 1.020)" font-size="34" text-anchor="middle">500</text>
<text transform="translate(0.4 24.6) scale(1 0.96)" font-size="33">(a)</text>
<text transform="translate(270.80 493.30) scale(1.0794 1.0000)" font-size="33.5">vibration</text>
<text transform="translate(414.64 493.30) scale(1.0501 1.0000)" font-size="33.5">frequency</text>
<text transform="translate(568.35 494.14) scale(1.0301 1.1315)" font-size="33.5">(</text>
<text transform="translate(578.60 493.30) scale(1.0482 1.0000)" font-size="33.5">kHz</text>
<text transform="translate(637.20 494.14) scale(1.0085 1.1315)" font-size="33.5">)</text>
<text transform="translate(41.8 193.8) rotate(-90) scale(1.045 1)" font-size="36.3" font-style="italic" text-anchor="middle">M</text>
<rect x="475.5" y="89.1" width="303.7" height="316.3" fill="#fff" stroke="#2a2a2a" stroke-width="1.05"/>
<line x1="496.8" y1="115.5" x2="536.2" y2="115.5" stroke="#000000" stroke-width="2.7"/>
<text transform="translate(558.34 124.62) scale(0.9352 1.0224)" font-size="27" font-style="italic">&#948;</text>
<line x1="579.9" y1="115.2" x2="598.1" y2="115.2" stroke="#000" stroke-width="1.15"/>
<line x1="579.9" y1="120.1" x2="598.1" y2="120.1" stroke="#000" stroke-width="1.15"/>
<text transform="translate(607.08 124.80) scale(1.0123 1.0300)" font-size="27">0.1</text>
<text transform="translate(649.13 124.80) scale(1.0962 1.0000)" font-size="27">nm</text>
<line x1="496.8" y1="168.6" x2="536.2" y2="168.6" stroke="#0000ff" stroke-width="2.7"/>
<text transform="translate(558.34 177.72) scale(0.9352 1.0224)" font-size="27" font-style="italic">&#948;</text>
<line x1="579.9" y1="168.3" x2="598.1" y2="168.3" stroke="#000" stroke-width="1.15"/>
<line x1="579.9" y1="173.2" x2="598.1" y2="173.2" stroke="#000" stroke-width="1.15"/>
<text transform="translate(607.08 177.90) scale(1.0123 1.0300)" font-size="27">0.5</text>
<text transform="translate(649.13 177.90) scale(1.0962 1.0000)" font-size="27">nm</text>
<line x1="496.8" y1="221.7" x2="536.2" y2="221.7" stroke="#ff0000" stroke-width="2.7"/>
<text transform="translate(558.34 230.82) scale(0.9352 1.0224)" font-size="27" font-style="italic">&#948;</text>
<line x1="579.9" y1="221.4" x2="598.1" y2="221.4" stroke="#000" stroke-width="1.15"/>
<line x1="579.9" y1="226.3" x2="598.1" y2="226.3" stroke="#000" stroke-width="1.15"/>
<text transform="translate(607.08 231.00) scale(1.0123 1.0300)" font-size="27">1.0</text>
<text transform="translate(649.13 231.00) scale(1.0962 1.0000)" font-size="27">nm</text>
<line x1="496.5" y1="274.5" x2="508.9" y2="274.5" stroke="#000000" stroke-width="2.7"/>
<line x1="516.2" y1="274.5" x2="528.6" y2="274.5" stroke="#000000" stroke-width="2.7"/>
<text transform="translate(558.34 280.92) scale(0.9352 1.0224)" font-size="27" font-style="italic">&#948;</text>
<line x1="579.9" y1="271.5" x2="598.1" y2="271.5" stroke="#000" stroke-width="1.15"/>
<line x1="579.9" y1="276.4" x2="598.1" y2="276.4" stroke="#000" stroke-width="1.15"/>
<text transform="translate(607.08 281.10) scale(1.0123 1.0300)" font-size="27">0.1</text>
<text transform="translate(649.13 281.10) scale(1.0962 1.0000)" font-size="27">nm</text>
<text transform="translate(694.55 281.53) scale(1.0289 1.1101)" font-size="27">(</text>
<text transform="translate(705.46 281.10) scale(1.1257 1.0000)" font-size="27">pert</text>
<text transform="translate(753.89 281.53) scale(1.0335 1.1101)" font-size="27">)</text>
<line x1="496.5" y1="327.3" x2="508.9" y2="327.3" stroke="#0000ff" stroke-width="2.7"/>
<line x1="516.2" y1="327.3" x2="528.6" y2="327.3" stroke="#0000ff" stroke-width="2.7"/>
<text transform="translate(558.34 333.72) scale(0.9352 1.0224)" font-size="27" font-style="italic">&#948;</text>
<line x1="579.9" y1="324.3" x2="598.1" y2="324.3" stroke="#000" stroke-width="1.15"/>
<line x1="579.9" y1="329.2" x2="598.1" y2="329.2" stroke="#000" stroke-width="1.15"/>
<text transform="translate(607.08 333.90) scale(1.0123 1.0300)" font-size="27">0.5</text>
<text transform="translate(649.13 333.90) scale(1.0962 1.0000)" font-size="27">nm</text>
<text transform="translate(694.55 334.33) scale(1.0289 1.1101)" font-size="27">(</text>
<text transform="translate(705.46 333.90) scale(1.1257 1.0000)" font-size="27">pert</text>
<text transform="translate(753.89 334.33) scale(1.0335 1.1101)" font-size="27">)</text>
<line x1="496.5" y1="380.6" x2="508.9" y2="380.6" stroke="#ff0000" stroke-width="2.7"/>
<line x1="516.2" y1="380.6" x2="528.6" y2="380.6" stroke="#ff0000" stroke-width="2.7"/>
<text transform="translate(558.34 387.02) scale(0.9352 1.0224)" font-size="27" font-style="italic">&#948;</text>
<line x1="579.9" y1="377.6" x2="598.1" y2="377.6" stroke="#000" stroke-width="1.15"/>
<line x1="579.9" y1="382.5" x2="598.1" y2="382.5" stroke="#000" stroke-width="1.15"/>
<text transform="translate(607.08 387.20) scale(1.0123 1.0300)" font-size="27">1.0</text>
<text transform="translate(649.13 387.20) scale(1.0962 1.0000)" font-size="27">nm</text>
<text transform="translate(694.55 387.63) scale(1.0289 1.1101)" font-size="27">(</text>
<text transform="translate(705.46 387.20) scale(1.1257 1.0000)" font-size="27">pert</text>
<text transform="translate(753.89 387.63) scale(1.0335 1.1101)" font-size="27">)</text>
<path d="M131.0 529.4 L132.5 529.4 L134.0 529.4 L135.5 529.4 L137.0 529.4 L138.5 529.4 L140.0 529.5 L141.5 529.5 L143.0 529.5 L144.5 529.6 L146.0 529.6 L147.5 529.7 L149.0 529.8 L150.5 529.9 L152.0 529.9 L153.5 530.0 L155.0 530.1 L156.5 530.2 L158.0 530.3 L159.5 530.4 L161.0 530.5 L162.5 530.7 L164.0 530.8 L165.5 530.9 L167.0 531.1 L168.5 531.2 L170.0 531.4 L171.5 531.5 L173.0 531.7 L174.5 531.9 L176.0 532.1 L177.5 532.2 L179.0 532.4 L180.5 532.6 L182.0 532.8 L183.5 533.0 L185.0 533.2 L186.5 533.5 L188.0 533.7 L189.5 533.9 L191.0 534.2 L192.5 534.4 L194.0 534.6 L195.5 534.9 L197.0 535.2 L198.5 535.4 L200.0 535.7 L201.5 536.0 L203.0 536.3 L204.5 536.5 L206.0 536.8 L207.5 537.1 L209.0 537.5 L210.5 537.8 L212.0 538.1 L213.5 538.4 L215.0 538.7 L216.5 539.1 L218.0 539.4 L219.5 539.8 L221.0 540.1 L222.5 540.5 L224.0 540.8 L225.5 541.2 L227.0 541.6 L228.5 542.0 L230.0 542.4 L231.5 542.8 L233.0 543.2 L234.5 543.6 L236.0 544.0 L237.5 544.4 L239.0 544.8 L240.5 545.2 L242.0 545.7 L243.5 546.1 L245.0 546.5 L246.5 547.0 L248.0 547.4 L249.5 547.9 L251.0 548.4 L252.5 548.8 L254.0 549.3 L255.5 549.8 L257.0 550.3 L258.5 550.8 L260.0 551.3 L261.5 551.8 L263.0 552.3 L264.5 552.8 L266.0 553.3 L267.5 553.8 L269.0 554.4 L270.5 554.9 L272.0 555.4 L273.5 556.0 L275.0 556.5 L276.5 557.1 L278.0 557.7 L279.5 558.2 L281.0 558.8 L282.5 559.4 L284.0 559.9 L285.5 560.5 L287.0 561.1 L288.5 561.7 L290.0 562.3 L291.5 562.9 L293.0 563.5 L294.5 564.1 L296.0 564.8 L297.5 565.4 L299.0 566.0 L300.5 566.6 L302.0 567.3 L303.5 567.9 L305.0 568.6 L306.5 569.2 L308.0 569.9 L309.5 570.5 L311.0 571.2 L312.5 571.9 L314.0 572.5 L315.5 573.2 L317.0 573.9 L318.5 574.6 L320.0 575.3 L321.5 576.0 L323.0 576.7 L324.5 577.4 L326.0 578.1 L327.5 578.8 L329.0 579.5 L330.5 580.2 L332.0 581.0 L333.5 581.7 L335.0 582.4 L336.5 583.2 L338.0 583.9 L339.5 584.7 L341.0 585.4 L342.5 586.2 L344.0 586.9 L345.5 587.7 L347.0 588.4 L348.5 589.2 L350.0 590.0 L351.5 590.8 L353.0 591.5 L354.5 592.3 L356.0 593.1 L357.5 593.9 L359.0 594.7 L360.5 595.5 L362.0 596.3 L363.5 597.1 L365.0 597.9 L366.5 598.7 L368.0 599.6 L369.5 600.4 L371.0 601.2 L372.5 602.0 L374.0 602.9 L375.5 603.7 L377.0 604.5 L378.5 605.4 L380.0 606.2 L381.5 607.1 L383.0 607.9 L384.5 608.8 L386.0 609.6 L387.5 610.5 L389.0 611.3 L390.5 612.2 L392.0 613.1 L393.5 614.0 L395.0 614.8 L396.5 615.7 L398.0 616.6 L399.5 617.5 L401.0 618.4 L402.5 619.2 L404.0 620.1 L405.5 621.0 L407.0 621.9 L408.5 622.8 L410.0 623.7 L411.5 624.6 L413.0 625.5 L414.5 626.4 L416.0 627.4 L417.5 628.3 L419.0 629.2 L420.5 630.1 L422.0 631.0 L423.5 632.0 L425.0 632.9 L426.5 633.8 L428.0 634.7 L429.5 635.7 L431.0 636.6 L432.5 637.5 L434.0 638.5 L435.5 639.4 L437.0 640.4 L438.5 641.3 L440.0 642.3 L441.5 643.2 L443.0 644.2 L444.5 645.1 L446.0 646.1 L447.5 647.0 L449.0 648.0 L450.5 649.0 L452.0 649.9 L453.5 650.9 L455.0 651.8 L456.5 652.8 L458.0 653.8 L459.5 654.8 L461.0 655.7 L462.5 656.7 L464.0 657.7 L465.5 658.7 L467.0 659.6 L468.5 660.6 L470.0 661.6 L471.5 662.6 L473.0 663.6 L474.5 664.5 L476.0 665.5 L477.5 666.5 L479.0 667.5 L480.5 668.5 L482.0 669.5 L483.5 670.5 L485.0 671.5 L486.5 672.5 L488.0 673.5 L489.5 674.5 L491.0 675.4 L492.5 676.4 L494.0 677.4 L495.5 678.4 L497.0 679.4 L498.5 680.4 L500.0 681.4 L501.5 682.5 L503.0 683.5 L504.5 684.5 L506.0 685.5 L507.5 686.5 L509.0 687.5 L510.5 688.5 L512.0 689.5 L513.5 690.5 L515.0 691.5 L516.5 692.5 L518.0 693.5 L519.5 694.5 L521.0 695.5 L522.5 696.6 L524.0 697.6 L525.5 698.6 L527.0 699.6 L528.5 700.6 L530.0 701.6 L531.5 702.6 L533.0 703.6 L534.5 704.6 L536.0 705.7 L537.5 706.7 L539.0 707.7 L540.5 708.7 L542.0 709.7 L543.5 710.7 L545.0 711.7 L546.5 712.7 L548.0 713.7 L549.5 714.8 L551.0 715.8 L552.5 716.8 L554.0 717.8 L555.5 718.8 L557.0 719.8 L558.5 720.8 L560.0 721.8 L561.5 722.8 L563.0 723.9 L564.5 724.9 L566.0 725.9 L567.5 726.9 L569.0 727.9 L570.5 728.9 L572.0 729.9 L573.5 730.9 L575.0 731.9 L576.5 732.9 L578.0 733.9 L579.5 734.9 L581.0 735.9 L582.5 736.9 L584.0 737.9 L585.5 738.9 L587.0 739.9 L588.5 740.9 L590.0 741.9 L591.5 742.9 L593.0 743.9 L594.5 744.9 L596.0 745.9 L597.5 746.9 L599.0 747.9 L600.5 748.9 L602.0 749.9 L603.5 750.9 L605.0 751.9 L606.5 752.9 L608.0 753.9 L609.5 754.9 L611.0 755.9 L612.5 756.8 L614.0 757.8 L615.5 758.8 L617.0 759.8 L618.5 760.8 L620.0 761.8 L621.5 762.7 L623.0 763.7 L624.5 764.7 L626.0 765.7 L627.5 766.7 L629.0 767.6 L630.5 768.6 L632.0 769.6 L633.5 770.5 L635.0 771.5 L636.5 772.5 L638.0 773.5 L639.5 774.4 L641.0 775.4 L642.5 776.3 L644.0 777.3 L645.5 778.3 L647.0 779.2 L648.5 780.2 L650.0 781.1 L651.5 782.1 L653.0 783.1 L654.5 784.0 L656.0 785.0 L657.5 785.9 L659.0 786.9 L660.5 787.8 L662.0 788.8 L663.5 789.7 L665.0 790.6 L666.5 791.6 L668.0 792.5 L669.5 793.5 L671.0 794.4 L672.5 795.3 L674.0 796.3 L675.5 797.2 L677.0 798.1 L678.5 799.1 L680.0 800.0 L681.5 800.9 L683.0 801.9 L684.5 802.8 L686.0 803.7 L687.5 804.6 L689.0 805.6 L690.5 806.5 L692.0 807.4 L693.5 808.3 L695.0 809.2 L696.5 810.1 L698.0 811.0 L699.5 812.0 L701.0 812.9 L702.5 813.8 L704.0 814.7 L705.5 815.6 L707.0 816.5 L708.5 817.4 L710.0 818.3 L711.5 819.2 L713.0 820.1 L714.5 821.0 L716.0 821.9 L717.5 822.8 L719.0 823.7 L720.5 824.6 L722.0 825.5 L723.5 826.3 L725.0 827.2 L726.5 828.1 L728.0 829.0 L729.5 829.9 L731.0 830.8 L732.5 831.6 L734.0 832.5 L735.5 833.4 L737.0 834.3 L738.5 835.1 L740.0 836.0 L741.5 836.9 L743.0 837.8 L744.5 838.6 L746.0 839.5 L747.5 840.4 L749.0 841.2 L750.5 842.1 L752.0 843.0 L753.5 843.8 L755.0 844.7 L756.5 845.5 L758.0 846.4 L759.5 847.3 L761.0 848.1 L762.5 849.0 L764.0 849.8 L765.5 850.7 L767.0 851.5 L768.5 852.4 L770.0 853.2 L771.5 854.1 L773.0 854.9 L774.5 855.8 L776.0 856.6 L777.5 857.5 L779.0 858.3 L780.5 859.2 L782.0 860.0 L783.5 860.9 L785.0 861.7 L786.5 862.6 L788.0 863.4 L789.2 864.1" fill="none" stroke="#ff0000" stroke-width="2.8" stroke-linejoin="round"/>
<path d="M131.0 529.4 L132.5 529.4 L134.0 529.4 L135.5 529.4 L137.0 529.4 L138.5 529.4 L140.0 529.4 L141.5 529.4 L143.0 529.4 L144.5 529.5 L146.0 529.5 L147.5 529.5 L149.0 529.6 L150.5 529.6 L152.0 529.7 L153.5 529.7 L155.0 529.8 L156.5 529.8 L158.0 529.9 L159.5 529.9 L161.0 530.0 L162.5 530.0 L164.0 530.1 L165.5 530.2 L167.0 530.3 L168.5 530.3 L170.0 530.4 L171.5 530.5 L173.0 530.6 L174.5 530.7 L176.0 530.8 L177.5 530.9 L179.0 531.0 L180.5 531.1 L182.0 531.2 L183.5 531.3 L185.0 531.4 L186.5 531.5 L188.0 531.6 L189.5 531.8 L191.0 531.9 L192.5 532.0 L194.0 532.2 L195.5 532.3 L197.0 532.4 L198.5 532.6 L200.0 532.7 L201.5 532.9 L203.0 533.0 L204.5 533.2 L206.0 533.4 L207.5 533.5 L209.0 533.7 L210.5 533.9 L212.0 534.0 L213.5 534.2 L215.0 534.4 L216.5 534.6 L218.0 534.8 L219.5 535.0 L221.0 535.2 L222.5 535.4 L224.0 535.6 L225.5 535.8 L227.0 536.0 L228.5 536.2 L230.0 536.4 L231.5 536.6 L233.0 536.8 L234.5 537.1 L236.0 537.3 L237.5 537.5 L239.0 537.8 L240.5 538.0 L242.0 538.2 L243.5 538.5 L245.0 538.7 L246.5 539.0 L248.0 539.2 L249.5 539.5 L251.0 539.8 L252.5 540.0 L254.0 540.3 L255.5 540.6 L257.0 540.9 L258.5 541.1 L260.0 541.4 L261.5 541.7 L263.0 542.0 L264.5 542.3 L266.0 542.6 L267.5 542.9 L269.0 543.2 L270.5 543.5 L272.0 543.8 L273.5 544.1 L275.0 544.4 L276.5 544.7 L278.0 545.1 L279.5 545.4 L281.0 545.7 L282.5 546.1 L284.0 546.4 L285.5 546.7 L287.0 547.1 L288.5 547.4 L290.0 547.8 L291.5 548.1 L293.0 548.5 L294.5 548.8 L296.0 549.2 L297.5 549.6 L299.0 549.9 L300.5 550.3 L302.0 550.7 L303.5 551.1 L305.0 551.4 L306.5 551.8 L308.0 552.2 L309.5 552.6 L311.0 553.0 L312.5 553.4 L314.0 553.8 L315.5 554.2 L317.0 554.6 L318.5 555.0 L320.0 555.4 L321.5 555.9 L323.0 556.3 L324.5 556.7 L326.0 557.1 L327.5 557.6 L329.0 558.0 L330.5 558.4 L332.0 558.9 L333.5 559.3 L335.0 559.8 L336.5 560.2 L338.0 560.7 L339.5 561.1 L341.0 561.6 L342.5 562.0 L344.0 562.5 L345.5 563.0 L347.0 563.4 L348.5 563.9 L350.0 564.4 L351.5 564.9 L353.0 565.3 L354.5 565.8 L356.0 566.3 L357.5 566.8 L359.0 567.3 L360.5 567.8 L362.0 568.3 L363.5 568.8 L365.0 569.3 L366.5 569.8 L368.0 570.3 L369.5 570.8 L371.0 571.3 L372.5 571.9 L374.0 572.4 L375.5 572.9 L377.0 573.4 L378.5 574.0 L380.0 574.5 L381.5 575.1 L383.0 575.6 L384.5 576.1 L386.0 576.7 L387.5 577.2 L389.0 577.8 L390.5 578.3 L392.0 578.9 L393.5 579.5 L395.0 580.0 L396.5 580.6 L398.0 581.2 L399.5 581.7 L401.0 582.3 L402.5 582.9 L404.0 583.5 L405.5 584.0 L407.0 584.6 L408.5 585.2 L410.0 585.8 L411.5 586.4 L413.0 587.0 L414.5 587.6 L416.0 588.2 L417.5 588.8 L419.0 589.4 L420.5 590.0 L422.0 590.6 L423.5 591.2 L425.0 591.8 L426.5 592.5 L428.0 593.1 L429.5 593.7 L431.0 594.3 L432.5 595.0 L434.0 595.6 L435.5 596.2 L437.0 596.9 L438.5 597.5 L440.0 598.1 L441.5 598.8 L443.0 599.4 L444.5 600.1 L446.0 600.7 L447.5 601.4 L449.0 602.0 L450.5 602.7 L452.0 603.4 L453.5 604.0 L455.0 604.7 L456.5 605.3 L458.0 606.0 L459.5 606.7 L461.0 607.4 L462.5 608.0 L464.0 608.7 L465.5 609.4 L467.0 610.1 L468.5 610.8 L470.0 611.5 L471.5 612.1 L473.0 612.8 L474.5 613.5 L476.0 614.2 L477.5 614.9 L479.0 615.6 L480.5 616.3 L482.0 617.0 L483.5 617.7 L485.0 618.5 L486.5 619.2 L488.0 619.9 L489.5 620.6 L491.0 621.3 L492.5 622.0 L494.0 622.8 L495.5 623.5 L497.0 624.2 L498.5 624.9 L500.0 625.7 L501.5 626.4 L503.0 627.1 L504.5 627.9 L506.0 628.6 L507.5 629.3 L509.0 630.1 L510.5 630.8 L512.0 631.6 L513.5 632.3 L515.0 633.1 L516.5 633.8 L518.0 634.6 L519.5 635.3 L521.0 636.1 L522.5 636.8 L524.0 637.6 L525.5 638.4 L527.0 639.1 L528.5 639.9 L530.0 640.7 L531.5 641.4 L533.0 642.2 L534.5 643.0 L536.0 643.7 L537.5 644.5 L539.0 645.3 L540.5 646.1 L542.0 646.9 L543.5 647.6 L545.0 648.4 L546.5 649.2 L548.0 650.0 L549.5 650.8 L551.0 651.6 L552.5 652.4 L554.0 653.2 L555.5 654.0 L557.0 654.8 L558.5 655.6 L560.0 656.4 L561.5 657.2 L563.0 658.0 L564.5 658.8 L566.0 659.6 L567.5 660.4 L569.0 661.2 L570.5 662.0 L572.0 662.8 L573.5 663.6 L575.0 664.5 L576.5 665.3 L578.0 666.1 L579.5 666.9 L581.0 667.7 L582.5 668.6 L584.0 669.4 L585.5 670.2 L587.0 671.0 L588.5 671.9 L590.0 672.7 L591.5 673.5 L593.0 674.3 L594.5 675.2 L596.0 676.0 L597.5 676.9 L599.0 677.7 L600.5 678.5 L602.0 679.4 L603.5 680.2 L605.0 681.1 L606.5 681.9 L608.0 682.7 L609.5 683.6 L611.0 684.4 L612.5 685.3 L614.0 686.1 L615.5 687.0 L617.0 687.8 L618.5 688.7 L620.0 689.5 L621.5 690.4 L623.0 691.3 L624.5 692.1 L626.0 693.0 L627.5 693.8 L629.0 694.7 L630.5 695.6 L632.0 696.4 L633.5 697.3 L635.0 698.1 L636.5 699.0 L638.0 699.9 L639.5 700.8 L641.0 701.6 L642.5 702.5 L644.0 703.4 L645.5 704.2 L647.0 705.1 L648.5 706.0 L650.0 706.9 L651.5 707.7 L653.0 708.6 L654.5 709.5 L656.0 710.4 L657.5 711.3 L659.0 712.1 L660.5 713.0 L662.0 713.9 L663.5 714.8 L665.0 715.7 L666.5 716.6 L668.0 717.4 L669.5 718.3 L671.0 719.2 L672.5 720.1 L674.0 721.0 L675.5 721.9 L677.0 722.8 L678.5 723.7 L680.0 724.6 L681.5 725.5 L683.0 726.4 L684.5 727.3 L686.0 728.2 L687.5 729.1 L689.0 730.0 L690.5 730.9 L692.0 731.8 L693.5 732.7 L695.0 733.6 L696.5 734.5 L698.0 735.4 L699.5 736.3 L701.0 737.2 L702.5 738.1 L704.0 739.0 L705.5 739.9 L707.0 740.8 L708.5 741.7 L710.0 742.6 L711.5 743.5 L713.0 744.5 L714.5 745.4 L716.0 746.3 L717.5 747.2 L719.0 748.1 L720.5 749.0 L722.0 749.9 L723.5 750.9 L725.0 751.8 L726.5 752.7 L728.0 753.6 L729.5 754.5 L731.0 755.4 L732.5 756.4 L734.0 757.3 L735.5 758.2 L737.0 759.1 L738.5 760.1 L740.0 761.0 L741.5 761.9 L743.0 762.8 L744.5 763.8 L746.0 764.7 L747.5 765.6 L749.0 766.5 L750.5 767.5 L752.0 768.4 L753.5 769.3 L755.0 770.3 L756.5 771.2 L758.0 772.1 L759.5 773.1 L761.0 774.0 L762.5 774.9 L764.0 775.9 L765.5 776.8 L767.0 777.7 L768.5 778.7 L770.0 779.6 L771.5 780.6 L773.0 781.5 L774.5 782.4 L776.0 783.4 L777.5 784.3 L779.0 785.3 L780.5 786.2 L782.0 787.2 L783.5 788.1 L785.0 789.0 L786.5 790.0 L788.0 790.9 L789.2 791.7" fill="none" stroke="#0000ff" stroke-width="2.8" stroke-linejoin="round"/>
<path d="M131.0 529.4 L132.5 529.4 L134.0 529.4 L135.5 529.4 L137.0 529.4 L138.5 529.4 L140.0 529.4 L141.5 529.4 L143.0 529.4 L144.5 529.4 L146.0 529.4 L147.5 529.4 L149.0 529.4 L150.5 529.4 L152.0 529.4 L153.5 529.4 L155.0 529.4 L156.5 529.4 L158.0 529.4 L159.5 529.4 L161.0 529.4 L162.5 529.4 L164.0 529.4 L165.5 529.4 L167.0 529.4 L168.5 529.4 L170.0 529.4 L171.5 529.4 L173.0 529.4 L174.5 529.4 L176.0 529.4 L177.5 529.4 L179.0 529.4 L180.5 529.4 L182.0 529.4 L183.5 529.4 L185.0 529.4 L186.5 529.4 L188.0 529.4 L189.5 529.4 L191.0 529.4 L192.5 529.4 L194.0 529.4 L195.5 529.4 L197.0 529.4 L198.5 529.4 L200.0 529.4 L201.5 529.4 L203.0 529.4 L204.5 529.4 L206.0 529.4 L207.5 529.4 L209.0 529.4 L210.5 529.4 L212.0 529.4 L213.5 529.4 L215.0 529.4 L216.5 529.4 L218.0 529.4 L219.5 529.4 L221.0 529.4 L222.5 529.4 L224.0 529.4 L225.5 529.4 L227.0 529.4 L228.5 529.5 L230.0 529.5 L231.5 529.5 L233.0 529.5 L234.5 529.5 L236.0 529.5 L237.5 529.5 L239.0 529.5 L240.5 529.5 L242.0 529.5 L243.5 529.5 L245.0 529.5 L246.5 529.5 L248.0 529.5 L249.5 529.5 L251.0 529.5 L252.5 529.5 L254.0 529.5 L255.5 529.5 L257.0 529.5 L258.5 529.5 L260.0 529.5 L261.5 529.5 L263.0 529.5 L264.5 529.5 L266.0 529.5 L267.5 529.5 L269.0 529.5 L270.5 529.5 L272.0 529.5 L273.5 529.5 L275.0 529.5 L276.5 529.5 L278.0 529.6 L279.5 529.6 L281.0 529.6 L282.5 529.6 L284.0 529.6 L285.5 529.6 L287.0 529.6 L288.5 529.6 L290.0 529.6 L291.5 529.6 L293.0 529.6 L294.5 529.6 L296.0 529.6 L297.5 529.6 L299.0 529.6 L300.5 529.6 L302.0 529.6 L303.5 529.6 L305.0 529.6 L306.5 529.6 L308.0 529.6 L309.5 529.6 L311.0 529.6 L312.5 529.6 L314.0 529.6 L315.5 529.6 L317.0 529.6 L318.5 529.6 L320.0 529.6 L321.5 529.7 L323.0 529.7 L324.5 529.7 L326.0 529.7 L327.5 529.7 L329.0 529.7 L330.5 529.7 L332.0 529.7 L333.5 529.7 L335.0 529.7 L336.5 529.7 L338.0 529.7 L339.5 529.7 L341.0 529.7 L342.5 529.7 L344.0 529.7 L345.5 529.7 L347.0 529.7 L348.5 529.7 L350.0 529.7 L351.5 529.8 L353.0 529.8 L354.5 529.8 L356.0 529.8 L357.5 529.8 L359.0 529.8 L360.5 529.8 L362.0 529.8 L363.5 529.8 L365.0 529.8 L366.5 529.8 L368.0 529.8 L369.5 529.8 L371.0 529.8 L372.5 529.8 L374.0 529.8 L375.5 529.8 L377.0 529.9 L378.5 529.9 L380.0 529.9 L381.5 529.9 L383.0 529.9 L384.5 529.9 L386.0 529.9 L387.5 529.9 L389.0 529.9 L390.5 529.9 L392.0 529.9 L393.5 529.9 L395.0 529.9 L396.5 529.9 L398.0 530.0 L399.5 530.0 L401.0 530.0 L402.5 530.0 L404.0 530.0 L405.5 530.0 L407.0 530.0 L408.5 530.0 L410.0 530.0 L411.5 530.0 L413.0 530.0 L414.5 530.0 L416.0 530.1 L417.5 530.1 L419.0 530.1 L420.5 530.1 L422.0 530.1 L423.5 530.1 L425.0 530.1 L426.5 530.1 L428.0 530.1 L429.5 530.1 L431.0 530.1 L432.5 530.2 L434.0 530.2 L435.5 530.2 L437.0 530.2 L438.5 530.2 L440.0 530.2 L441.5 530.2 L443.0 530.2 L444.5 530.2 L446.0 530.2 L447.5 530.3 L449.0 530.3 L450.5 530.3 L452.0 530.3 L453.5 530.3 L455.0 530.3 L456.5 530.3 L458.0 530.3 L459.5 530.4 L461.0 530.4 L462.5 530.4 L464.0 530.4 L465.5 530.4 L467.0 530.4 L468.5 530.5 L470.0 530.5 L471.5 530.5 L473.0 530.5 L474.5 530.5 L476.0 530.5 L477.5 530.6 L479.0 530.6 L480.5 530.6 L482.0 530.6 L483.5 530.6 L485.0 530.6 L486.5 530.7 L488.0 530.7 L489.5 530.7 L491.0 530.7 L492.5 530.7 L494.0 530.8 L495.5 530.8 L497.0 530.8 L498.5 530.8 L500.0 530.9 L501.5 530.9 L503.0 530.9 L504.5 530.9 L506.0 530.9 L507.5 531.0 L509.0 531.0 L510.5 531.0 L512.0 531.0 L513.5 531.1 L515.0 531.1 L516.5 531.1 L518.0 531.1 L519.5 531.1 L521.0 531.2 L522.5 531.2 L524.0 531.2 L525.5 531.2 L527.0 531.3 L528.5 531.3 L530.0 531.3 L531.5 531.3 L533.0 531.4 L534.5 531.4 L536.0 531.4 L537.5 531.4 L539.0 531.5 L540.5 531.5 L542.0 531.5 L543.5 531.5 L545.0 531.6 L546.5 531.6 L548.0 531.6 L549.5 531.6 L551.0 531.7 L552.5 531.7 L554.0 531.7 L555.5 531.7 L557.0 531.8 L558.5 531.8 L560.0 531.8 L561.5 531.8 L563.0 531.8 L564.5 531.9 L566.0 531.9 L567.5 531.9 L569.0 532.0 L570.5 532.0 L572.0 532.0 L573.5 532.0 L575.0 532.1 L576.5 532.1 L578.0 532.1 L579.5 532.1 L581.0 532.2 L582.5 532.2 L584.0 532.2 L585.5 532.3 L587.0 532.3 L588.5 532.3 L590.0 532.4 L591.5 532.4 L593.0 532.4 L594.5 532.4 L596.0 532.5 L597.5 532.5 L599.0 532.5 L600.5 532.6 L602.0 532.6 L603.5 532.6 L605.0 532.7 L606.5 532.7 L608.0 532.8 L609.5 532.8 L611.0 532.8 L612.5 532.9 L614.0 532.9 L615.5 532.9 L617.0 533.0 L618.5 533.0 L620.0 533.1 L621.5 533.1 L623.0 533.1 L624.5 533.2 L626.0 533.2 L627.5 533.3 L629.0 533.3 L630.5 533.3 L632.0 533.4 L633.5 533.4 L635.0 533.5 L636.5 533.5 L638.0 533.6 L639.5 533.6 L641.0 533.7 L642.5 533.7 L644.0 533.8 L645.5 533.8 L647.0 533.9 L648.5 533.9 L650.0 534.0 L651.5 534.0 L653.0 534.1 L654.5 534.2 L656.0 534.2 L657.5 534.3 L659.0 534.3 L660.5 534.4 L662.0 534.5 L663.5 534.5 L665.0 534.6 L666.5 534.7 L668.0 534.8 L669.5 534.8 L671.0 534.9 L672.5 535.0 L674.0 535.1 L675.5 535.2 L677.0 535.3 L678.5 535.3 L680.0 535.4 L681.5 535.5 L683.0 535.6 L684.5 535.7 L686.0 535.8 L687.5 535.9 L689.0 536.0 L690.5 536.1 L692.0 536.2 L693.5 536.3 L695.0 536.4 L696.5 536.5 L698.0 536.6 L699.5 536.7 L701.0 536.8 L702.5 536.9 L704.0 537.1 L705.5 537.2 L707.0 537.3 L708.5 537.4 L710.0 537.5 L711.5 537.6 L713.0 537.7 L714.5 537.9 L716.0 538.0 L717.5 538.1 L719.0 538.3 L720.5 538.4 L722.0 538.5 L723.5 538.7 L725.0 538.8 L726.5 538.9 L728.0 539.1 L729.5 539.2 L731.0 539.4 L732.5 539.5 L734.0 539.6 L735.5 539.8 L737.0 539.9 L738.5 540.1 L740.0 540.2 L741.5 540.4 L743.0 540.5 L744.5 540.6 L746.0 540.8 L747.5 540.9 L749.0 541.1 L750.5 541.2 L752.0 541.4 L753.5 541.5 L755.0 541.7 L756.5 541.8 L758.0 542.0 L759.5 542.1 L761.0 542.3 L762.5 542.4 L764.0 542.6 L765.5 542.7 L767.0 542.9 L768.5 543.0 L770.0 543.2 L771.5 543.4 L773.0 543.5 L774.5 543.7 L776.0 543.8 L777.5 544.0 L779.0 544.2 L780.5 544.3 L782.0 544.5 L783.5 544.6 L785.0 544.8 L786.5 545.0 L788.0 545.1 L788.5 545.2" fill="none" stroke="#00ff00" stroke-width="2.8" stroke-linejoin="round"/>
<path d="M131.0 529.4 L132.5 529.4 L134.0 529.4 L135.5 529.4 L137.0 529.4 L138.5 529.4 L140.0 529.4 L141.5 529.5 L143.0 529.5 L144.5 529.6 L146.0 529.6 L147.5 529.7 L149.0 529.7 L150.5 529.8 L152.0 529.9 L153.5 530.0 L155.0 530.1 L156.5 530.2 L158.0 530.3 L159.5 530.4 L161.0 530.5 L162.5 530.6 L164.0 530.7 L165.5 530.8 L167.0 531.0 L168.5 531.1 L170.0 531.3 L171.5 531.4 L173.0 531.6 L174.5 531.7 L176.0 531.9 L177.5 532.1 L179.0 532.3 L180.5 532.5 L182.0 532.7 L183.5 532.9 L185.0 533.1 L186.5 533.3 L188.0 533.5 L189.5 533.7 L191.0 534.0 L192.5 534.2 L194.0 534.4 L195.5 534.7 L197.0 534.9 L198.5 535.2 L200.0 535.5 L201.5 535.7 L203.0 536.0 L204.5 536.3 L206.0 536.6 L207.5 536.9 L209.0 537.2 L210.5 537.5 L212.0 537.9 L213.5 538.2 L215.0 538.5 L216.5 538.8 L218.0 539.2 L219.5 539.5 L221.0 539.9 L222.5 540.3 L224.0 540.6 L225.5 541.0 L227.0 541.4 L228.5 541.8 L230.0 542.2 L231.5 542.6 L233.0 543.0 L234.5 543.4 L236.0 543.8 L237.5 544.2 L239.0 544.7 L240.5 545.1 L242.0 545.5 L243.5 546.0 L245.0 546.4 L246.5 546.9 L248.0 547.4 L249.5 547.8 L251.0 548.3 L252.5 548.8 L254.0 549.3 L255.5 549.8 L257.0 550.3 L258.5 550.8 L260.0 551.3 L261.5 551.9 L263.0 552.4 L264.5 552.9 L266.0 553.5 L267.5 554.0 L269.0 554.6 L270.5 555.1 L272.0 555.7 L273.5 556.3 L275.0 556.8 L276.5 557.4 L278.0 558.0 L279.5 558.6 L281.0 559.2 L282.5 559.8 L284.0 560.4 L285.5 561.0 L287.0 561.7 L288.5 562.3 L290.0 562.9 L291.5 563.6 L293.0 564.2 L294.5 564.9 L296.0 565.5 L297.5 566.2 L299.0 566.8 L300.5 567.5 L302.0 568.2 L303.5 568.9 L305.0 569.6 L306.5 570.3 L308.0 571.0 L309.5 571.7 L311.0 572.4 L312.5 573.1 L314.0 573.8 L315.5 574.6 L317.0 575.3 L318.5 576.0 L320.0 576.8 L321.5 577.5 L323.0 578.3 L324.5 579.1 L326.0 579.8 L327.5 580.6 L329.0 581.4 L330.5 582.1 L332.0 582.9 L333.5 583.7 L335.0 584.5 L336.5 585.3 L338.0 586.1 L339.5 586.9 L341.0 587.8 L342.5 588.6 L344.0 589.4 L345.5 590.2 L347.0 591.1 L348.5 591.9 L350.0 592.8 L351.5 593.6 L353.0 594.5 L354.5 595.3 L356.0 596.2 L357.5 597.1 L359.0 597.9 L360.5 598.8 L362.0 599.7 L363.5 600.6 L365.0 601.5 L366.5 602.4 L368.0 603.3 L369.5 604.2 L371.0 605.1 L372.5 606.0 L374.0 606.9 L375.5 607.8 L377.0 608.7 L378.5 609.7 L380.0 610.6 L381.5 611.5 L383.0 612.5 L384.5 613.4 L386.0 614.4 L387.5 615.3 L389.0 616.3 L390.5 617.3 L392.0 618.2 L393.5 619.2 L395.0 620.2 L396.5 621.1 L398.0 622.1 L399.5 623.1 L401.0 624.1 L402.5 625.1 L404.0 626.1 L405.5 627.1 L407.0 628.1 L408.5 629.1 L410.0 630.1 L411.5 631.1 L413.0 632.1 L414.5 633.1 L416.0 634.1 L417.5 635.2 L419.0 636.2 L420.5 637.2 L422.0 638.3 L423.5 639.3 L425.0 640.3 L426.5 641.4 L428.0 642.4 L429.5 643.5 L431.0 644.5 L432.5 645.6 L434.0 646.6 L435.5 647.7 L437.0 648.8 L438.5 649.8 L440.0 650.9 L441.5 652.0 L443.0 653.1 L444.5 654.1 L446.0 655.2 L447.5 656.3 L449.0 657.4 L450.5 658.5 L452.0 659.6 L453.5 660.6 L455.0 661.7 L456.5 662.8 L458.0 663.9 L459.5 665.0 L461.0 666.1 L462.5 667.2 L464.0 668.4 L465.5 669.5 L467.0 670.6 L468.5 671.7 L470.0 672.8 L471.5 673.9 L473.0 675.0 L474.5 676.2 L476.0 677.3 L477.5 678.4 L479.0 679.5 L480.5 680.7 L482.0 681.8 L483.5 682.9 L485.0 684.1 L486.5 685.2 L488.0 686.3 L489.5 687.5 L491.0 688.6 L492.5 689.7 L494.0 690.9 L495.5 692.0 L497.0 693.2 L498.5 694.3 L500.0 695.5 L501.5 696.6 L503.0 697.8 L504.5 698.9 L506.0 700.1 L507.5 701.2 L509.0 702.4 L510.5 703.5 L512.0 704.7 L513.5 705.9 L515.0 707.0 L516.5 708.2 L518.0 709.3 L519.5 710.5 L521.0 711.7 L522.5 712.8 L524.0 714.0 L525.5 715.1 L527.0 716.3 L528.5 717.5 L530.0 718.6 L531.5 719.8 L533.0 721.0 L534.5 722.1 L536.0 723.3 L537.5 724.5 L539.0 725.6 L540.5 726.8 L542.0 728.0 L543.5 729.1 L545.0 730.3 L546.5 731.5 L548.0 732.7 L549.5 733.8 L551.0 735.0 L552.5 736.2 L554.0 737.3 L555.5 738.5 L557.0 739.7 L558.5 740.9 L560.0 742.0 L561.5 743.2 L563.0 744.4 L564.5 745.5 L566.0 746.7 L567.5 747.9 L569.0 749.0 L570.5 750.2 L572.0 751.4 L573.5 752.6 L575.0 753.7 L576.5 754.9 L578.0 756.1 L579.5 757.2 L581.0 758.4 L582.5 759.6 L584.0 760.7 L585.5 761.9 L587.0 763.1 L588.5 764.2 L590.0 765.4 L591.5 766.6 L593.0 767.7 L594.5 768.9 L596.0 770.1 L597.5 771.2 L599.0 772.4 L600.5 773.5 L602.0 774.7 L603.5 775.9 L605.0 777.0 L606.5 778.2 L608.0 779.3 L609.5 780.5 L611.0 781.6 L612.5 782.8 L614.0 784.0 L615.5 785.1 L617.0 786.3 L618.5 787.4 L620.0 788.6 L621.5 789.7 L623.0 790.9 L624.5 792.0 L626.0 793.2 L627.5 794.3 L629.0 795.4 L630.5 796.6 L632.0 797.7 L633.5 798.9 L635.0 800.0 L636.5 801.1 L638.0 802.3 L639.5 803.4 L641.0 804.6 L642.5 805.7 L644.0 806.8 L645.5 808.0 L647.0 809.1 L648.5 810.2 L650.0 811.3 L651.5 812.5 L653.0 813.6 L654.5 814.7 L656.0 815.8 L657.5 817.0 L659.0 818.1 L660.5 819.2 L662.0 820.3 L663.5 821.4 L665.0 822.6 L666.5 823.7 L668.0 824.8 L669.5 825.9 L671.0 827.0 L672.5 828.1 L674.0 829.2 L675.5 830.3 L677.0 831.4 L678.5 832.5 L680.0 833.7 L681.5 834.8 L683.0 835.9 L684.5 837.0 L686.0 838.1 L687.5 839.1 L689.0 840.2 L690.5 841.3 L692.0 842.4 L693.5 843.5 L695.0 844.6 L696.5 845.7 L698.0 846.8 L699.5 847.9 L701.0 849.0 L702.5 850.0 L704.0 851.1 L705.5 852.2 L707.0 853.3 L708.5 854.4 L710.0 855.4 L711.5 856.5 L713.0 857.6 L714.5 858.7 L716.0 859.7 L717.5 860.8 L719.0 861.9 L720.5 862.9 L722.0 864.0 L723.5 865.1 L725.0 866.2 L726.5 867.2 L728.0 868.3 L729.5 869.3 L731.0 870.4 L732.5 871.5 L734.0 872.5 L735.5 873.6 L737.0 874.6 L738.5 875.7 L740.0 876.7 L741.5 877.8 L743.0 878.8 L744.5 879.9 L746.0 880.9 L747.5 881.9 L749.0 882.9 L750.5 883.9 L752.0 884.9 L753.5 885.8 L755.0 886.7 L756.5 887.5 L758.0 888.4 L759.5 889.2 L761.0 890.1 L762.5 890.9 L764.0 891.7 L765.5 892.6 L767.0 893.4 L768.5 894.2 L770.0 894.9 L771.5 895.7 L773.0 896.5 L774.5 897.2 L776.0 897.9 L777.5 898.6 L779.0 899.3 L780.5 900.0 L782.0 900.7 L783.5 901.3 L785.0 902.0 L786.5 902.6 L787.3 902.9" fill="none" stroke="#ff0000" stroke-width="2.6" stroke-linejoin="round" stroke-dasharray="12.3 7.3" stroke-dashoffset="1.2"/>
<path d="M131.0 529.4 L132.5 529.4 L134.0 529.4 L135.5 529.4 L137.0 529.4 L138.5 529.4 L140.0 529.4 L141.5 529.4 L143.0 529.5 L144.5 529.5 L146.0 529.5 L147.5 529.5 L149.0 529.6 L150.5 529.6 L152.0 529.7 L153.5 529.7 L155.0 529.8 L156.5 529.8 L158.0 529.9 L159.5 529.9 L161.0 530.0 L162.5 530.1 L164.0 530.1 L165.5 530.2 L167.0 530.3 L168.5 530.4 L170.0 530.4 L171.5 530.5 L173.0 530.6 L174.5 530.7 L176.0 530.8 L177.5 530.9 L179.0 531.0 L180.5 531.1 L182.0 531.2 L183.5 531.3 L185.0 531.4 L186.5 531.6 L188.0 531.7 L189.5 531.8 L191.0 531.9 L192.5 532.1 L194.0 532.2 L195.5 532.3 L197.0 532.5 L198.5 532.6 L200.0 532.8 L201.5 532.9 L203.0 533.1 L204.5 533.2 L206.0 533.4 L207.5 533.6 L209.0 533.7 L210.5 533.9 L212.0 534.1 L213.5 534.3 L215.0 534.4 L216.5 534.6 L218.0 534.8 L219.5 535.0 L221.0 535.2 L222.5 535.4 L224.0 535.6 L225.5 535.8 L227.0 536.0 L228.5 536.2 L230.0 536.4 L231.5 536.7 L233.0 536.9 L234.5 537.1 L236.0 537.3 L237.5 537.6 L239.0 537.8 L240.5 538.0 L242.0 538.3 L243.5 538.5 L245.0 538.8 L246.5 539.0 L248.0 539.3 L249.5 539.5 L251.0 539.8 L252.5 540.1 L254.0 540.3 L255.5 540.6 L257.0 540.9 L258.5 541.2 L260.0 541.5 L261.5 541.7 L263.0 542.0 L264.5 542.3 L266.0 542.6 L267.5 542.9 L269.0 543.2 L270.5 543.5 L272.0 543.8 L273.5 544.1 L275.0 544.5 L276.5 544.8 L278.0 545.1 L279.5 545.4 L281.0 545.8 L282.5 546.1 L284.0 546.4 L285.5 546.8 L287.0 547.1 L288.5 547.5 L290.0 547.8 L291.5 548.2 L293.0 548.5 L294.5 548.9 L296.0 549.2 L297.5 549.6 L299.0 550.0 L300.5 550.3 L302.0 550.7 L303.5 551.1 L305.0 551.5 L306.5 551.9 L308.0 552.3 L309.5 552.6 L311.0 553.0 L312.5 553.4 L314.0 553.8 L315.5 554.3 L317.0 554.7 L318.5 555.1 L320.0 555.5 L321.5 555.9 L323.0 556.3 L324.5 556.8 L326.0 557.2 L327.5 557.6 L329.0 558.0 L330.5 558.5 L332.0 558.9 L333.5 559.4 L335.0 559.8 L336.5 560.3 L338.0 560.7 L339.5 561.2 L341.0 561.6 L342.5 562.1 L344.0 562.6 L345.5 563.0 L347.0 563.5 L348.5 564.0 L350.0 564.5 L351.5 565.0 L353.0 565.4 L354.5 565.9 L356.0 566.4 L357.5 566.9 L359.0 567.4 L360.5 567.9 L362.0 568.4 L363.5 568.9 L365.0 569.4 L366.5 570.0 L368.0 570.5 L369.5 571.0 L371.0 571.5 L372.5 572.0 L374.0 572.6 L375.5 573.1 L377.0 573.6 L378.5 574.2 L380.0 574.7 L381.5 575.3 L383.0 575.8 L384.5 576.4 L386.0 576.9 L387.5 577.5 L389.0 578.0 L390.5 578.6 L392.0 579.2 L393.5 579.7 L395.0 580.3 L396.5 580.9 L398.0 581.5 L399.5 582.0 L401.0 582.6 L402.5 583.2 L404.0 583.8 L405.5 584.4 L407.0 585.0 L408.5 585.6 L410.0 586.2 L411.5 586.8 L413.0 587.4 L414.5 588.0 L416.0 588.6 L417.5 589.3 L419.0 589.9 L420.5 590.5 L422.0 591.1 L423.5 591.8 L425.0 592.4 L426.5 593.0 L428.0 593.7 L429.5 594.3 L431.0 594.9 L432.5 595.6 L434.0 596.2 L435.5 596.9 L437.0 597.5 L438.5 598.2 L440.0 598.9 L441.5 599.5 L443.0 600.2 L444.5 600.9 L446.0 601.5 L447.5 602.2 L449.0 602.9 L450.5 603.6 L452.0 604.2 L453.5 604.9 L455.0 605.6 L456.5 606.3 L458.0 607.0 L459.5 607.7 L461.0 608.4 L462.5 609.1 L464.0 609.8 L465.5 610.5 L467.0 611.2 L468.5 611.9 L470.0 612.6 L471.5 613.4 L473.0 614.1 L474.5 614.8 L476.0 615.5 L477.5 616.2 L479.0 617.0 L480.5 617.7 L482.0 618.4 L483.5 619.2 L485.0 619.9 L486.5 620.7 L488.0 621.4 L489.5 622.2 L491.0 622.9 L492.5 623.7 L494.0 624.4 L495.5 625.2 L497.0 625.9 L498.5 626.7 L500.0 627.5 L501.5 628.2 L503.0 629.0 L504.5 629.8 L506.0 630.6 L507.5 631.3 L509.0 632.1 L510.5 632.9 L512.0 633.7 L513.5 634.5 L515.0 635.3 L516.5 636.1 L518.0 636.9 L519.5 637.6 L521.0 638.4 L522.5 639.3 L524.0 640.1 L525.5 640.9 L527.0 641.7 L528.5 642.5 L530.0 643.3 L531.5 644.1 L533.0 644.9 L534.5 645.8 L536.0 646.6 L537.5 647.4 L539.0 648.2 L540.5 649.1 L542.0 649.9 L543.5 650.7 L545.0 651.6 L546.5 652.4 L548.0 653.2 L549.5 654.1 L551.0 654.9 L552.5 655.8 L554.0 656.6 L555.5 657.5 L557.0 658.3 L558.5 659.2 L560.0 660.0 L561.5 660.9 L563.0 661.8 L564.5 662.6 L566.0 663.5 L567.5 664.4 L569.0 665.2 L570.5 666.1 L572.0 667.0 L573.5 667.9 L575.0 668.7 L576.5 669.6 L578.0 670.5 L579.5 671.4 L581.0 672.3 L582.5 673.2 L584.0 674.0 L585.5 674.9 L587.0 675.8 L588.5 676.7 L590.0 677.6 L591.5 678.5 L593.0 679.4 L594.5 680.3 L596.0 681.2 L597.5 682.1 L599.0 683.1 L600.5 684.0 L602.0 684.9 L603.5 685.8 L605.0 686.7 L606.5 687.6 L608.0 688.5 L609.5 689.5 L611.0 690.4 L612.5 691.3 L614.0 692.2 L615.5 693.2 L617.0 694.1 L618.5 695.0 L620.0 696.0 L621.5 696.9 L623.0 697.8 L624.5 698.8 L626.0 699.7 L627.5 700.7 L629.0 701.6 L630.5 702.6 L632.0 703.5 L633.5 704.5 L635.0 705.4 L636.5 706.4 L638.0 707.3 L639.5 708.3 L641.0 709.2 L642.5 710.2 L644.0 711.2 L645.5 712.1 L647.0 713.1 L648.5 714.0 L650.0 715.0 L651.5 716.0 L653.0 717.0 L654.5 717.9 L656.0 718.9 L657.5 719.9 L659.0 720.8 L660.5 721.8 L662.0 722.8 L663.5 723.8 L665.0 724.8 L666.5 725.7 L668.0 726.7 L669.5 727.7 L671.0 728.7 L672.5 729.7 L674.0 730.7 L675.5 731.7 L677.0 732.7 L678.5 733.7 L680.0 734.7 L681.5 735.7 L683.0 736.7 L684.5 737.7 L686.0 738.7 L687.5 739.7 L689.0 740.7 L690.5 741.7 L692.0 742.7 L693.5 743.7 L695.0 744.7 L696.5 745.7 L698.0 746.7 L699.5 747.7 L701.0 748.7 L702.5 749.7 L704.0 750.8 L705.5 751.8 L707.0 752.8 L708.5 753.8 L710.0 754.8 L711.5 755.8 L713.0 756.9 L714.5 757.9 L716.0 758.9 L717.5 759.9 L719.0 761.0 L720.5 762.0 L722.0 763.0 L723.5 764.1 L725.0 765.1 L726.5 766.1 L728.0 767.2 L729.5 768.2 L731.0 769.2 L732.5 770.3 L734.0 771.3 L735.5 772.3 L737.0 773.4 L738.5 774.4 L740.0 775.5 L741.5 776.5 L743.0 777.5 L744.5 778.6 L746.0 779.6 L747.5 780.7 L749.0 781.7 L750.5 782.8 L752.0 783.8 L753.5 784.9 L755.0 785.9 L756.5 787.0 L758.0 788.0 L759.5 789.1 L761.0 790.1 L762.5 791.2 L764.0 792.2 L765.5 793.3 L767.0 794.3 L768.5 795.4 L770.0 796.4 L771.5 797.5 L773.0 798.6 L774.5 799.6 L776.0 800.7 L777.5 801.7 L779.0 802.8 L780.5 803.9 L782.0 804.9 L783.5 806.0 L785.0 807.1 L786.5 808.1 L788.0 809.2 L789.2 810.0" fill="none" stroke="#0000ff" stroke-width="2.6" stroke-linejoin="round" stroke-dasharray="12.3 7.3" stroke-dashoffset="1.8"/>
<path d="M131.0 529.4 L132.5 529.4 L134.0 529.4 L135.5 529.4 L137.0 529.4 L138.5 529.4 L140.0 529.4 L141.5 529.4 L143.0 529.4 L144.5 529.4 L146.0 529.4 L147.5 529.4 L149.0 529.4 L150.5 529.4 L152.0 529.4 L153.5 529.4 L155.0 529.4 L156.5 529.4 L158.0 529.4 L159.5 529.4 L161.0 529.4 L162.5 529.4 L164.0 529.4 L165.5 529.4 L167.0 529.4 L168.5 529.4 L170.0 529.4 L171.5 529.4 L173.0 529.4 L174.5 529.4 L176.0 529.4 L177.5 529.4 L179.0 529.4 L180.5 529.4 L182.0 529.4 L183.5 529.4 L185.0 529.4 L186.5 529.4 L188.0 529.4 L189.5 529.4 L191.0 529.4 L192.5 529.4 L194.0 529.4 L195.5 529.4 L197.0 529.4 L198.5 529.4 L200.0 529.4 L201.5 529.4 L203.0 529.4 L204.5 529.4 L206.0 529.4 L207.5 529.4 L209.0 529.4 L210.5 529.4 L212.0 529.4 L213.5 529.4 L215.0 529.4 L216.5 529.4 L218.0 529.4 L219.5 529.4 L221.0 529.4 L222.5 529.4 L224.0 529.4 L225.5 529.4 L227.0 529.4 L228.5 529.5 L230.0 529.5 L231.5 529.5 L233.0 529.5 L234.5 529.5 L236.0 529.5 L237.5 529.5 L239.0 529.5 L240.5 529.5 L242.0 529.5 L243.5 529.5 L245.0 529.5 L246.5 529.5 L248.0 529.5 L249.5 529.5 L251.0 529.5 L252.5 529.5 L254.0 529.5 L255.5 529.5 L257.0 529.5 L258.5 529.5 L260.0 529.5 L261.5 529.5 L263.0 529.5 L264.5 529.5 L266.0 529.5 L267.5 529.5 L269.0 529.5 L270.5 529.5 L272.0 529.5 L273.5 529.5 L275.0 529.5 L276.5 529.5 L278.0 529.6 L279.5 529.6 L281.0 529.6 L282.5 529.6 L284.0 529.6 L285.5 529.6 L287.0 529.6 L288.5 529.6 L290.0 529.6 L291.5 529.6 L293.0 529.6 L294.5 529.6 L296.0 529.6 L297.5 529.6 L299.0 529.6 L300.5 529.6 L302.0 529.6 L303.5 529.6 L305.0 529.6 L306.5 529.6 L308.0 529.6 L309.5 529.6 L311.0 529.6 L312.5 529.6 L314.0 529.6 L315.5 529.6 L317.0 529.6 L318.5 529.6 L320.0 529.7 L321.5 529.7 L323.0 529.7 L324.5 529.7 L326.0 529.7 L327.5 529.7 L329.0 529.7 L330.5 529.7 L332.0 529.7 L333.5 529.7 L335.0 529.7 L336.5 529.7 L338.0 529.7 L339.5 529.7 L341.0 529.7 L342.5 529.7 L344.0 529.7 L345.5 529.7 L347.0 529.7 L348.5 529.7 L350.0 529.7 L351.5 529.8 L353.0 529.8 L354.5 529.8 L356.0 529.8 L357.5 529.8 L359.0 529.8 L360.5 529.8 L362.0 529.8 L363.5 529.8 L365.0 529.8 L366.5 529.8 L368.0 529.8 L369.5 529.8 L371.0 529.8 L372.5 529.8 L374.0 529.8 L375.5 529.8 L377.0 529.9 L378.5 529.9 L380.0 529.9 L381.5 529.9 L383.0 529.9 L384.5 529.9 L386.0 529.9 L387.5 529.9 L389.0 529.9 L390.5 529.9 L392.0 529.9 L393.5 529.9 L395.0 529.9 L396.5 529.9 L398.0 530.0 L399.5 530.0 L401.0 530.0 L402.5 530.0 L404.0 530.0 L405.5 530.0 L407.0 530.0 L408.5 530.0 L410.0 530.0 L411.5 530.0 L413.0 530.0 L414.5 530.0 L416.0 530.1 L417.5 530.1 L419.0 530.1 L420.5 530.1 L422.0 530.1 L423.5 530.1 L425.0 530.1 L426.5 530.1 L428.0 530.1 L429.5 530.1 L431.0 530.1 L432.5 530.2 L434.0 530.2 L435.5 530.2 L437.0 530.2 L438.5 530.2 L440.0 530.2 L441.5 530.2 L443.0 530.2 L444.5 530.2 L446.0 530.2 L447.5 530.3 L449.0 530.3 L450.5 530.3 L452.0 530.3 L453.5 530.3 L455.0 530.3 L456.5 530.3 L458.0 530.3 L459.5 530.4 L461.0 530.4 L462.5 530.4 L464.0 530.4 L465.5 530.4 L467.0 530.4 L468.5 530.4 L470.0 530.5 L471.5 530.5 L473.0 530.5 L474.5 530.5 L476.0 530.5 L477.5 530.5 L479.0 530.6 L480.5 530.6 L482.0 530.6 L483.5 530.6 L485.0 530.6 L486.5 530.7 L488.0 530.7 L489.5 530.7 L491.0 530.7 L492.5 530.7 L494.0 530.8 L495.5 530.8 L497.0 530.8 L498.5 530.8 L500.0 530.8 L501.5 530.9 L503.0 530.9 L504.5 530.9 L506.0 530.9 L507.5 530.9 L509.0 531.0 L510.5 531.0 L512.0 531.0 L513.5 531.0 L515.0 531.0 L516.5 531.1 L518.0 531.1 L519.5 531.1 L521.0 531.1 L522.5 531.2 L524.0 531.2 L525.5 531.2 L527.0 531.2 L528.5 531.2 L530.0 531.3 L531.5 531.3 L533.0 531.3 L534.5 531.3 L536.0 531.3 L537.5 531.4 L539.0 531.4 L540.5 531.4 L542.0 531.4 L543.5 531.5 L545.0 531.5 L546.5 531.5 L548.0 531.5 L549.5 531.5 L551.0 531.6 L552.5 531.6 L554.0 531.6 L555.5 531.6 L557.0 531.7 L558.5 531.7 L560.0 531.7 L561.5 531.7 L563.0 531.7 L564.5 531.8 L566.0 531.8 L567.5 531.8 L569.0 531.8 L570.5 531.9 L572.0 531.9 L573.5 531.9 L575.0 531.9 L576.5 531.9 L578.0 532.0 L579.5 532.0 L581.0 532.0 L582.5 532.0 L584.0 532.1 L585.5 532.1 L587.0 532.1 L588.5 532.1 L590.0 532.1 L591.5 532.2 L593.0 532.2 L594.5 532.2 L596.0 532.2 L597.5 532.3 L599.0 532.3 L600.5 532.3 L602.0 532.4 L603.5 532.4 L605.0 532.4 L606.5 532.4 L608.0 532.5 L609.5 532.5 L611.0 532.5 L612.5 532.5 L614.0 532.6 L615.5 532.6 L617.0 532.6 L618.5 532.7 L620.0 532.7 L621.5 532.7 L623.0 532.8 L624.5 532.8 L626.0 532.8 L627.5 532.9 L629.0 532.9 L630.5 532.9 L632.0 533.0 L633.5 533.0 L635.0 533.0 L636.5 533.1 L638.0 533.1 L639.5 533.2 L641.0 533.2 L642.5 533.2 L644.0 533.3 L645.5 533.3 L647.0 533.4 L648.5 533.4 L650.0 533.5 L651.5 533.5 L653.0 533.5 L654.5 533.6 L656.0 533.6 L657.5 533.7 L659.0 533.7 L660.5 533.8 L662.0 533.8 L663.5 533.9 L665.0 533.9 L666.5 534.0 L668.0 534.1 L669.5 534.1 L671.0 534.2 L672.5 534.2 L674.0 534.3 L675.5 534.4 L677.0 534.4 L678.5 534.5 L680.0 534.6 L681.5 534.6 L683.0 534.7 L684.5 534.8 L686.0 534.9 L687.5 534.9 L689.0 535.0 L690.5 535.1 L692.0 535.2 L693.5 535.2 L695.0 535.3 L696.5 535.4 L698.0 535.5 L699.5 535.6 L701.0 535.6 L702.5 535.7 L704.0 535.8 L705.5 535.9 L707.0 536.0 L708.5 536.0 L710.0 536.1 L711.5 536.2 L713.0 536.3 L714.5 536.4 L716.0 536.5 L717.5 536.6 L719.0 536.7 L720.5 536.8 L722.0 536.9 L723.5 537.0 L725.0 537.1 L726.5 537.2 L728.0 537.3 L729.5 537.4 L731.0 537.5 L732.5 537.6 L734.0 537.7 L735.5 537.8 L737.0 537.9 L738.5 538.0 L740.0 538.1 L741.5 538.2 L743.0 538.3 L744.5 538.4 L746.0 538.5 L747.5 538.6 L749.0 538.6 L750.5 538.7 L752.0 538.8 L753.5 538.9 L755.0 539.0 L756.5 539.1 L758.0 539.2 L759.5 539.3 L761.0 539.4 L762.5 539.5 L764.0 539.6 L765.5 539.7 L767.0 539.8 L768.5 539.9 L770.0 540.0 L771.5 540.1 L773.0 540.2 L774.5 540.3 L776.0 540.4 L777.5 540.5 L779.0 540.6 L780.5 540.7 L782.0 540.8 L783.5 540.9 L785.0 541.0 L786.5 541.1 L788.0 541.2 L788.5 541.2" fill="none" stroke="#00ff00" stroke-width="2.6" stroke-linejoin="round" stroke-dasharray="12.3 7.3" stroke-dashoffset="0"/>
<path d="M131.0 529.4 L132.5 529.4 L134.0 529.4 L135.5 529.4 L137.0 529.4 L138.5 529.4 L140.0 529.4 L141.5 529.4 L143.0 529.4 L144.5 529.4 L146.0 529.4 L147.5 529.4 L149.0 529.4 L150.5 529.4 L152.0 529.4 L153.5 529.4 L155.0 529.4 L156.5 529.4 L158.0 529.4 L159.5 529.4 L161.0 529.4 L162.5 529.4 L164.0 529.4 L165.5 529.4 L167.0 529.4 L168.5 529.4 L170.0 529.4 L171.5 529.4 L173.0 529.4 L174.5 529.5 L176.0 529.5 L177.5 529.5 L179.0 529.5 L180.5 529.5 L182.0 529.5 L183.5 529.5 L185.0 529.5 L186.5 529.5 L188.0 529.5 L189.5 529.5 L191.0 529.5 L192.5 529.5 L194.0 529.5 L195.5 529.5 L197.0 529.5 L198.5 529.5 L200.0 529.5 L201.5 529.5 L203.0 529.5 L204.5 529.5 L206.0 529.5 L207.5 529.6 L209.0 529.6 L210.5 529.6 L212.0 529.6 L213.5 529.6 L215.0 529.6 L216.5 529.6 L218.0 529.6 L219.5 529.6 L221.0 529.6 L222.5 529.6 L224.0 529.6 L225.5 529.6 L227.0 529.6 L228.5 529.6 L230.0 529.6 L231.5 529.6 L233.0 529.6 L234.5 529.6 L236.0 529.6 L237.5 529.7 L239.0 529.7 L240.5 529.7 L242.0 529.7 L243.5 529.7 L245.0 529.7 L246.5 529.7 L248.0 529.7 L249.5 529.7 L251.0 529.7 L252.5 529.7 L254.0 529.7 L255.5 529.7 L257.0 529.7 L258.5 529.7 L260.0 529.7 L261.5 529.7 L263.0 529.8 L264.5 529.8 L266.0 529.8 L267.5 529.8 L269.0 529.8 L270.5 529.8 L272.0 529.8 L273.5 529.8 L275.0 529.8 L276.5 529.8 L278.0 529.8 L279.5 529.8 L281.0 529.8 L282.5 529.8 L284.0 529.8 L285.5 529.8 L287.0 529.8 L288.5 529.9 L290.0 529.9 L291.5 529.9 L293.0 529.9 L294.5 529.9 L296.0 529.9 L297.5 529.9 L299.0 529.9 L300.5 529.9 L302.0 529.9 L303.5 529.9 L305.0 529.9 L306.5 529.9 L308.0 529.9 L309.5 529.9 L311.0 529.9 L312.5 530.0 L314.0 530.0 L315.5 530.0 L317.0 530.0 L318.5 530.0 L320.0 530.0 L321.5 530.0 L323.0 530.0 L324.5 530.0 L326.0 530.0 L327.5 530.0 L329.0 530.0 L330.5 530.0 L332.0 530.0 L333.5 530.0 L335.0 530.1 L336.5 530.1 L338.0 530.1 L339.5 530.1 L341.0 530.1 L342.5 530.1 L344.0 530.1 L345.5 530.1 L347.0 530.1 L348.5 530.1 L350.0 530.1 L351.5 530.1 L353.0 530.1 L354.5 530.1 L356.0 530.2 L357.5 530.2 L359.0 530.2 L360.5 530.2 L362.0 530.2 L363.5 530.2 L365.0 530.2 L366.5 530.2 L368.0 530.2 L369.5 530.2 L371.0 530.2 L372.5 530.2 L374.0 530.3 L375.5 530.3 L377.0 530.3 L378.5 530.3 L380.0 530.3 L381.5 530.3 L383.0 530.3 L384.5 530.3 L386.0 530.3 L387.5 530.3 L389.0 530.3 L390.5 530.4 L392.0 530.4 L393.5 530.4 L395.0 530.4 L396.5 530.4 L398.0 530.4 L399.5 530.4 L401.0 530.4 L402.5 530.4 L404.0 530.4 L405.5 530.4 L407.0 530.5 L408.5 530.5 L410.0 530.5 L411.5 530.5 L413.0 530.5 L414.5 530.5 L416.0 530.5 L417.5 530.5 L419.0 530.5 L420.5 530.6 L422.0 530.6 L423.5 530.6 L425.0 530.6 L426.5 530.6 L428.0 530.6 L429.5 530.6 L431.0 530.6 L432.5 530.6 L434.0 530.7 L435.5 530.7 L437.0 530.7 L438.5 530.7 L440.0 530.7 L441.5 530.7 L443.0 530.7 L444.5 530.7 L446.0 530.8 L447.5 530.8 L449.0 530.8 L450.5 530.8 L452.0 530.8 L453.5 530.8 L455.0 530.8 L456.5 530.9 L458.0 530.9 L459.5 530.9 L461.0 530.9 L462.5 530.9 L464.0 531.0 L465.5 531.0 L467.0 531.0 L468.5 531.0 L470.0 531.0 L471.5 531.1 L473.0 531.1 L474.5 531.1 L476.0 531.1 L477.5 531.1 L479.0 531.2 L480.5 531.2 L482.0 531.2 L483.5 531.2 L485.0 531.2 L486.5 531.3 L488.0 531.3 L489.5 531.3 L491.0 531.3 L492.5 531.4 L494.0 531.4 L495.5 531.4 L497.0 531.4 L498.5 531.5 L500.0 531.5 L501.5 531.5 L503.0 531.5 L504.5 531.5 L506.0 531.6 L507.5 531.6 L509.0 531.6 L510.5 531.6 L512.0 531.7 L513.5 531.7 L515.0 531.7 L516.5 531.7 L518.0 531.8 L519.5 531.8 L521.0 531.8 L522.5 531.8 L524.0 531.8 L525.5 531.9 L527.0 531.9 L528.5 531.9 L530.0 531.9 L531.5 532.0 L533.0 532.0 L534.5 532.0 L536.0 532.0 L537.5 532.0 L539.0 532.1 L540.5 532.1 L542.0 532.1 L543.5 532.1 L545.0 532.1 L546.5 532.2 L548.0 532.2 L549.5 532.2 L551.0 532.2 L552.5 532.2 L554.0 532.2 L555.5 532.3 L557.0 532.3 L558.5 532.3 L560.0 532.3 L561.5 532.3 L563.0 532.3 L564.5 532.3 L566.0 532.4 L567.5 532.4 L569.0 532.4 L570.5 532.4 L572.0 532.4 L573.5 532.4 L575.0 532.5 L576.5 532.5 L578.0 532.5 L579.5 532.5 L581.0 532.5 L582.5 532.5 L584.0 532.6 L585.5 532.6 L587.0 532.6 L588.5 532.6 L590.0 532.6 L591.5 532.6 L593.0 532.6 L594.5 532.6 L596.0 532.7 L597.5 532.7 L599.0 532.7 L600.5 532.7 L602.0 532.7 L603.5 532.7 L605.0 532.7 L606.5 532.7 L608.0 532.7 L609.5 532.7 L611.0 532.7 L612.5 532.7 L614.0 532.7 L615.5 532.7 L617.0 532.7 L618.5 532.7 L620.0 532.7 L621.5 532.7 L623.0 532.7 L624.5 532.7 L626.0 532.7 L627.5 532.7 L629.0 532.7 L630.5 532.7 L632.0 532.7 L633.5 532.7 L635.0 532.7 L636.5 532.7 L638.0 532.7 L639.5 532.7 L641.0 532.7 L642.5 532.7 L644.0 532.7 L645.5 532.7 L647.0 532.7 L648.5 532.7 L650.0 532.7 L651.5 532.7 L653.0 532.7 L654.5 532.7 L656.0 532.7 L657.5 532.7 L659.0 532.7 L660.5 532.7 L662.0 532.7 L663.5 532.7 L665.0 532.7 L666.5 532.7 L668.0 532.7 L669.5 532.7 L671.0 532.7 L672.5 532.7 L674.0 532.7 L675.5 532.6 L677.0 532.6 L678.5 532.6 L680.0 532.6 L681.5 532.6 L683.0 532.6 L684.5 532.6 L686.0 532.6 L687.5 532.5 L689.0 532.5 L690.5 532.5 L692.0 532.5 L693.5 532.5 L695.0 532.5 L696.5 532.5 L698.0 532.4 L699.5 532.4 L701.0 532.4 L702.5 532.4 L704.0 532.4 L705.5 532.4 L707.0 532.3 L708.5 532.3 L710.0 532.3 L711.5 532.3 L713.0 532.3 L714.5 532.3 L716.0 532.2 L717.5 532.2 L719.0 532.2 L720.5 532.2 L722.0 532.2 L723.5 532.2 L725.0 532.2 L726.5 532.1 L728.0 532.1 L729.5 532.1 L731.0 532.1 L732.5 532.1 L734.0 532.1 L735.5 532.0 L737.0 532.0 L738.5 532.0 L740.0 532.0 L741.5 532.0 L743.0 532.0 L744.5 531.9 L746.0 531.9 L747.5 531.9 L749.0 531.9 L750.5 531.9 L752.0 531.9 L753.5 531.8 L755.0 531.8 L756.5 531.8 L758.0 531.8 L759.5 531.8 L761.0 531.8 L762.5 531.7 L764.0 531.7 L765.5 531.7 L767.0 531.7 L768.5 531.7 L770.0 531.6 L771.5 531.6 L773.0 531.6 L774.5 531.6 L776.0 531.6 L777.5 531.5 L779.0 531.5 L780.5 531.5 L782.0 531.5 L783.5 531.5 L785.0 531.4 L786.5 531.4 L788.0 531.4 L788.5 531.4" fill="none" stroke="#000000" stroke-width="2.8" stroke-linejoin="round"/>
<rect x="118.8" y="517.7" width="683.2" height="422.1" fill="none" stroke="#000" stroke-width="2.8"/>
<line x1="165.3" y1="939.8" x2="165.3" y2="934.9" stroke="#000" stroke-width="2.6"/>
<line x1="165.3" y1="517.7" x2="165.3" y2="522.6" stroke="#000" stroke-width="2.6"/>
<line x1="198.1" y1="939.8" x2="198.1" y2="934.9" stroke="#000" stroke-width="2.6"/>
<line x1="198.1" y1="517.7" x2="198.1" y2="522.6" stroke="#000" stroke-width="2.6"/>
<line x1="230.9" y1="939.8" x2="230.9" y2="934.9" stroke="#000" stroke-width="2.6"/>
<line x1="230.9" y1="517.7" x2="230.9" y2="522.6" stroke="#000" stroke-width="2.6"/>
<line x1="263.7" y1="939.8" x2="263.7" y2="934.9" stroke="#000" stroke-width="2.6"/>
<line x1="263.7" y1="517.7" x2="263.7" y2="522.6" stroke="#000" stroke-width="2.6"/>
<line x1="329.3" y1="939.8" x2="329.3" y2="934.9" stroke="#000" stroke-width="2.6"/>
<line x1="329.3" y1="517.7" x2="329.3" y2="522.6" stroke="#000" stroke-width="2.6"/>
<line x1="362.1" y1="939.8" x2="362.1" y2="934.9" stroke="#000" stroke-width="2.6"/>
<line x1="362.1" y1="517.7" x2="362.1" y2="522.6" stroke="#000" stroke-width="2.6"/>
<line x1="394.9" y1="939.8" x2="394.9" y2="934.9" stroke="#000" stroke-width="2.6"/>
<line x1="394.9" y1="517.7" x2="394.9" y2="522.6" stroke="#000" stroke-width="2.6"/>
<line x1="427.7" y1="939.8" x2="427.7" y2="934.9" stroke="#000" stroke-width="2.6"/>
<line x1="427.7" y1="517.7" x2="427.7" y2="522.6" stroke="#000" stroke-width="2.6"/>
<line x1="493.2" y1="939.8" x2="493.2" y2="934.9" stroke="#000" stroke-width="2.6"/>
<line x1="493.2" y1="517.7" x2="493.2" y2="522.6" stroke="#000" stroke-width="2.6"/>
<line x1="526.0" y1="939.8" x2="526.0" y2="934.9" stroke="#000" stroke-width="2.6"/>
<line x1="526.0" y1="517.7" x2="526.0" y2="522.6" stroke="#000" stroke-width="2.6"/>
<line x1="558.8" y1="939.8" x2="558.8" y2="934.9" stroke="#000" stroke-width="2.6"/>
<line x1="558.8" y1="517.7" x2="558.8" y2="522.6" stroke="#000" stroke-width="2.6"/>
<line x1="591.6" y1="939.8" x2="591.6" y2="934.9" stroke="#000" stroke-width="2.6"/>
<line x1="591.6" y1="517.7" x2="591.6" y2="522.6" stroke="#000" stroke-width="2.6"/>
<line x1="657.2" y1="939.8" x2="657.2" y2="934.9" stroke="#000" stroke-width="2.6"/>
<line x1="657.2" y1="517.7" x2="657.2" y2="522.6" stroke="#000" stroke-width="2.6"/>
<line x1="690.0" y1="939.8" x2="690.0" y2="934.9" stroke="#000" stroke-width="2.6"/>
<line x1="690.0" y1="517.7" x2="690.0" y2="522.6" stroke="#000" stroke-width="2.6"/>
<line x1="722.8" y1="939.8" x2="722.8" y2="934.9" stroke="#000" stroke-width="2.6"/>
<line x1="722.8" y1="517.7" x2="722.8" y2="522.6" stroke="#000" stroke-width="2.6"/>
<line x1="755.6" y1="939.8" x2="755.6" y2="934.9" stroke="#000" stroke-width="2.6"/>
<line x1="755.6" y1="517.7" x2="755.6" y2="522.6" stroke="#000" stroke-width="2.6"/>
<line x1="132.5" y1="939.8" x2="132.5" y2="931.6" stroke="#000" stroke-width="2.6"/>
<line x1="132.5" y1="517.7" x2="132.5" y2="525.9" stroke="#000" stroke-width="2.6"/>
<line x1="296.5" y1="939.8" x2="296.5" y2="931.6" stroke="#000" stroke-width="2.6"/>
<line x1="296.5" y1="517.7" x2="296.5" y2="525.9" stroke="#000" stroke-width="2.6"/>
<line x1="460.4" y1="939.8" x2="460.4" y2="931.6" stroke="#000" stroke-width="2.6"/>
<line x1="460.4" y1="517.7" x2="460.4" y2="525.9" stroke="#000" stroke-width="2.6"/>
<line x1="624.4" y1="939.8" x2="624.4" y2="931.6" stroke="#000" stroke-width="2.6"/>
<line x1="624.4" y1="517.7" x2="624.4" y2="525.9" stroke="#000" stroke-width="2.6"/>
<line x1="788.4" y1="939.8" x2="788.4" y2="931.6" stroke="#000" stroke-width="2.6"/>
<line x1="788.4" y1="517.7" x2="788.4" y2="525.9" stroke="#000" stroke-width="2.6"/>
<line x1="118.8" y1="540.7" x2="123.6" y2="540.7" stroke="#000" stroke-width="2.6"/>
<line x1="802.0" y1="540.7" x2="797.1" y2="540.7" stroke="#000" stroke-width="2.6"/>
<line x1="118.8" y1="552.1" x2="123.6" y2="552.1" stroke="#000" stroke-width="2.6"/>
<line x1="802.0" y1="552.1" x2="797.1" y2="552.1" stroke="#000" stroke-width="2.6"/>
<line x1="118.8" y1="563.5" x2="123.6" y2="563.5" stroke="#000" stroke-width="2.6"/>
<line x1="802.0" y1="563.5" x2="797.1" y2="563.5" stroke="#000" stroke-width="2.6"/>
<line x1="118.8" y1="574.9" x2="123.6" y2="574.9" stroke="#000" stroke-width="2.6"/>
<line x1="802.0" y1="574.9" x2="797.1" y2="574.9" stroke="#000" stroke-width="2.6"/>
<line x1="118.8" y1="597.7" x2="123.6" y2="597.7" stroke="#000" stroke-width="2.6"/>
<line x1="802.0" y1="597.7" x2="797.1" y2="597.7" stroke="#000" stroke-width="2.6"/>
<line x1="118.8" y1="609.1" x2="123.6" y2="609.1" stroke="#000" stroke-width="2.6"/>
<line x1="802.0" y1="609.1" x2="797.1" y2="609.1" stroke="#000" stroke-width="2.6"/>
<line x1="118.8" y1="620.5" x2="123.6" y2="620.5" stroke="#000" stroke-width="2.6"/>
<line x1="802.0" y1="620.5" x2="797.1" y2="620.5" stroke="#000" stroke-width="2.6"/>
<line x1="118.8" y1="632.0" x2="123.6" y2="632.0" stroke="#000" stroke-width="2.6"/>
<line x1="802.0" y1="632.0" x2="797.1" y2="632.0" stroke="#000" stroke-width="2.6"/>
<line x1="118.8" y1="654.8" x2="123.6" y2="654.8" stroke="#000" stroke-width="2.6"/>
<line x1="802.0" y1="654.8" x2="797.1" y2="654.8" stroke="#000" stroke-width="2.6"/>
<line x1="118.8" y1="666.2" x2="123.6" y2="666.2" stroke="#000" stroke-width="2.6"/>
<line x1="802.0" y1="666.2" x2="797.1" y2="666.2" stroke="#000" stroke-width="2.6"/>
<line x1="118.8" y1="677.6" x2="123.6" y2="677.6" stroke="#000" stroke-width="2.6"/>
<line x1="802.0" y1="677.6" x2="797.1" y2="677.6" stroke="#000" stroke-width="2.6"/>
<line x1="118.8" y1="689.0" x2="123.6" y2="689.0" stroke="#000" stroke-width="2.6"/>
<line x1="802.0" y1="689.0" x2="797.1" y2="689.0" stroke="#000" stroke-width="2.6"/>
<line x1="118.8" y1="711.8" x2="123.6" y2="711.8" stroke="#000" stroke-width="2.6"/>
<line x1="802.0" y1="711.8" x2="797.1" y2="711.8" stroke="#000" stroke-width="2.6"/>
<line x1="118.8" y1="723.2" x2="123.6" y2="723.2" stroke="#000" stroke-width="2.6"/>
<line x1="802.0" y1="723.2" x2="797.1" y2="723.2" stroke="#000" stroke-width="2.6"/>
<line x1="118.8" y1="734.6" x2="123.6" y2="734.6" stroke="#000" stroke-width="2.6"/>
<line x1="802.0" y1="734.6" x2="797.1" y2="734.6" stroke="#000" stroke-width="2.6"/>
<line x1="118.8" y1="746.0" x2="123.6" y2="746.0" stroke="#000" stroke-width="2.6"/>
<line x1="802.0" y1="746.0" x2="797.1" y2="746.0" stroke="#000" stroke-width="2.6"/>
<line x1="118.8" y1="768.8" x2="123.6" y2="768.8" stroke="#000" stroke-width="2.6"/>
<line x1="802.0" y1="768.8" x2="797.1" y2="768.8" stroke="#000" stroke-width="2.6"/>
<line x1="118.8" y1="780.2" x2="123.6" y2="780.2" stroke="#000" stroke-width="2.6"/>
<line x1="802.0" y1="780.2" x2="797.1" y2="780.2" stroke="#000" stroke-width="2.6"/>
<line x1="118.8" y1="791.6" x2="123.6" y2="791.6" stroke="#000" stroke-width="2.6"/>
<line x1="802.0" y1="791.6" x2="797.1" y2="791.6" stroke="#000" stroke-width="2.6"/>
<line x1="118.8" y1="803.0" x2="123.6" y2="803.0" stroke="#000" stroke-width="2.6"/>
<line x1="802.0" y1="803.0" x2="797.1" y2="803.0" stroke="#000" stroke-width="2.6"/>
<line x1="118.8" y1="825.9" x2="123.6" y2="825.9" stroke="#000" stroke-width="2.6"/>
<line x1="802.0" y1="825.9" x2="797.1" y2="825.9" stroke="#000" stroke-width="2.6"/>
<line x1="118.8" y1="837.3" x2="123.6" y2="837.3" stroke="#000" stroke-width="2.6"/>
<line x1="802.0" y1="837.3" x2="797.1" y2="837.3" stroke="#000" stroke-width="2.6"/>
<line x1="118.8" y1="848.7" x2="123.6" y2="848.7" stroke="#000" stroke-width="2.6"/>
<line x1="802.0" y1="848.7" x2="797.1" y2="848.7" stroke="#000" stroke-width="2.6"/>
<line x1="118.8" y1="860.1" x2="123.6" y2="860.1" stroke="#000" stroke-width="2.6"/>
<line x1="802.0" y1="860.1" x2="797.1" y2="860.1" stroke="#000" stroke-width="2.6"/>
<line x1="118.8" y1="882.9" x2="123.6" y2="882.9" stroke="#000" stroke-width="2.6"/>
<line x1="802.0" y1="882.9" x2="797.1" y2="882.9" stroke="#000" stroke-width="2.6"/>
<line x1="118.8" y1="894.3" x2="123.6" y2="894.3" stroke="#000" stroke-width="2.6"/>
<line x1="802.0" y1="894.3" x2="797.1" y2="894.3" stroke="#000" stroke-width="2.6"/>
<line x1="118.8" y1="905.7" x2="123.6" y2="905.7" stroke="#000" stroke-width="2.6"/>
<line x1="802.0" y1="905.7" x2="797.1" y2="905.7" stroke="#000" stroke-width="2.6"/>
<line x1="118.8" y1="917.1" x2="123.6" y2="917.1" stroke="#000" stroke-width="2.6"/>
<line x1="802.0" y1="917.1" x2="797.1" y2="917.1" stroke="#000" stroke-width="2.6"/>
<line x1="118.8" y1="529.3" x2="127.0" y2="529.3" stroke="#000" stroke-width="2.6"/>
<line x1="802.0" y1="529.3" x2="793.8" y2="529.3" stroke="#000" stroke-width="2.6"/>
<line x1="118.8" y1="586.3" x2="127.0" y2="586.3" stroke="#000" stroke-width="2.6"/>
<line x1="802.0" y1="586.3" x2="793.8" y2="586.3" stroke="#000" stroke-width="2.6"/>
<line x1="118.8" y1="643.4" x2="127.0" y2="643.4" stroke="#000" stroke-width="2.6"/>
<line x1="802.0" y1="643.4" x2="793.8" y2="643.4" stroke="#000" stroke-width="2.6"/>
<line x1="118.8" y1="700.4" x2="127.0" y2="700.4" stroke="#000" stroke-width="2.6"/>
<line x1="802.0" y1="700.4" x2="793.8" y2="700.4" stroke="#000" stroke-width="2.6"/>
<line x1="118.8" y1="757.4" x2="127.0" y2="757.4" stroke="#000" stroke-width="2.6"/>
<line x1="802.0" y1="757.4" x2="793.8" y2="757.4" stroke="#000" stroke-width="2.6"/>
<line x1="118.8" y1="814.4" x2="127.0" y2="814.4" stroke="#000" stroke-width="2.6"/>
<line x1="802.0" y1="814.4" x2="793.8" y2="814.4" stroke="#000" stroke-width="2.6"/>
<line x1="118.8" y1="871.5" x2="127.0" y2="871.5" stroke="#000" stroke-width="2.6"/>
<line x1="802.0" y1="871.5" x2="793.8" y2="871.5" stroke="#000" stroke-width="2.6"/>
<line x1="118.8" y1="928.5" x2="127.0" y2="928.5" stroke="#000" stroke-width="2.6"/>
<line x1="802.0" y1="928.5" x2="793.8" y2="928.5" stroke="#000" stroke-width="2.6"/>
<text transform="translate(109.80 539.70) scale(1 1.020)" font-size="34" text-anchor="end">1.0</text>
<text transform="translate(109.80 596.73) scale(1 1.020)" font-size="34" text-anchor="end">0.9</text>
<text transform="translate(109.80 653.76) scale(1 1.020)" font-size="34" text-anchor="end">0.8</text>
<text transform="translate(109.80 710.79) scale(1 1.020)" font-size="34" text-anchor="end">0.7</text>
<text transform="translate(109.80 767.82) scale(1 1.020)" font-size="34" text-anchor="end">0.6</text>
<text transform="translate(109.80 824.85) scale(1 1.020)" font-size="34" text-anchor="end">0.5</text>
<text transform="translate(109.80 881.88) scale(1 1.020)" font-size="34" text-anchor="end">0.4</text>
<text transform="translate(109.80 938.91) scale(1 1.020)" font-size="34" text-anchor="end">0.3</text>
<text transform="translate(130.70 970.70) scale(1 1.020)" font-size="34" text-anchor="middle">0.0</text>
<text transform="translate(295.48 970.70) scale(1 1.020)" font-size="34" text-anchor="middle">0.5</text>
<text transform="translate(460.85 970.70) scale(1 1.020)" font-size="34" text-anchor="middle">1.0</text>
<text transform="translate(624.12 970.70) scale(1 1.020)" font-size="34" text-anchor="middle">1.5</text>
<text transform="translate(787.30 970.70) scale(1 1.020)" font-size="34" text-anchor="middle">2.0</text>
<text transform="translate(0.4 538.5) scale(1 0.96)" font-size="33">(b)</text>
<text transform="translate(406.23 1008.65) scale(0.9530 1.0191)" font-size="34" font-style="italic">&#948;</text>
<text transform="translate(442.65 1008.96) scale(0.9599 1.1151)" font-size="33.5">(</text>
<text transform="translate(452.37 1008.50) scale(1.1026 1.0000)" font-size="33.5">nm</text>
<text transform="translate(500.19 1008.96) scale(0.9274 1.1151)" font-size="33.5">)</text>
<text transform="translate(41.8 725.6) rotate(-90) scale(1.045 1)" font-size="36.3" font-style="italic" text-anchor="middle">M</text>
<rect x="135.5" y="617.4" width="246.7" height="307.4" fill="#fff" stroke="#2a2a2a" stroke-width="1.05"/>
<line x1="154.2" y1="640.0" x2="186.9" y2="640.0" stroke="#ff0000" stroke-width="2.7"/>
<text transform="translate(201.62 650.30) scale(1.0190 1.0300)" font-size="27">50</text>
<text transform="translate(237.15 650.30) scale(1.0258 1.0000)" font-size="27">kHz</text>
<line x1="154.2" y1="677.9" x2="186.9" y2="677.9" stroke="#0000ff" stroke-width="2.7"/>
<text transform="translate(201.62 688.20) scale(1.0190 1.0300)" font-size="27">100</text>
<text transform="translate(250.75 688.20) scale(1.0258 1.0000)" font-size="27">kHz</text>
<line x1="154.2" y1="716.3" x2="186.9" y2="716.3" stroke="#00ff00" stroke-width="2.7"/>
<text transform="translate(201.62 726.60) scale(1.0190 1.0300)" font-size="27">200</text>
<text transform="translate(250.75 726.60) scale(1.0258 1.0000)" font-size="27">kHz</text>
<line x1="154.2" y1="754.6" x2="186.9" y2="754.6" stroke="#000000" stroke-width="2.7"/>
<text transform="translate(201.62 764.90) scale(1.0190 1.0300)" font-size="27">500</text>
<text transform="translate(250.75 764.90) scale(1.0258 1.0000)" font-size="27">kHz</text>
<line x1="154.3" y1="792.3" x2="166.7" y2="792.3" stroke="#ff0000" stroke-width="2.7"/>
<line x1="173.9" y1="792.3" x2="186.3" y2="792.3" stroke="#ff0000" stroke-width="2.7"/>
<text transform="translate(201.62 799.20) scale(1.0190 1.0300)" font-size="27">50</text>
<text transform="translate(237.15 799.20) scale(1.0258 1.0000)" font-size="27">kHz</text>
<text transform="translate(293.66 799.63) scale(1.0167 1.1101)" font-size="27">(</text>
<text transform="translate(304.45 799.20) scale(1.1123 1.0000)" font-size="27">pert</text>
<text transform="translate(352.30 799.63) scale(1.0212 1.1101)" font-size="27">)</text>
<line x1="154.3" y1="830.1" x2="166.7" y2="830.1" stroke="#0000ff" stroke-width="2.7"/>
<line x1="173.9" y1="830.1" x2="186.3" y2="830.1" stroke="#0000ff" stroke-width="2.7"/>
<text transform="translate(201.62 837.00) scale(1.0190 1.0300)" font-size="27">100</text>
<text transform="translate(250.75 837.00) scale(1.0258 1.0000)" font-size="27">kHz</text>
<text transform="translate(306.66 837.43) scale(1.0167 1.1101)" font-size="27">(</text>
<text transform="translate(317.45 837.00) scale(1.1123 1.0000)" font-size="27">pert</text>
<text transform="translate(365.30 837.43) scale(1.0212 1.1101)" font-size="27">)</text>
<line x1="154.3" y1="868.1" x2="166.7" y2="868.1" stroke="#00ff00" stroke-width="2.7"/>
<line x1="173.9" y1="868.1" x2="186.3" y2="868.1" stroke="#00ff00" stroke-width="2.7"/>
<text transform="translate(201.62 875.00) scale(1.0190 1.0300)" font-size="27">200</text>
<text transform="translate(250.75 875.00) scale(1.0258 1.0000)" font-size="27">kHz</text>
<text transform="translate(306.66 875.43) scale(1.0167 1.1101)" font-size="27">(</text>
<text transform="translate(317.45 875.00) scale(1.1123 1.0000)" font-size="27">pert</text>
<text transform="translate(365.30 875.43) scale(1.0212 1.1101)" font-size="27">)</text>
<line x1="154.3" y1="906.3" x2="166.7" y2="906.3" stroke="#000000" stroke-width="2.7"/>
<line x1="173.9" y1="906.3" x2="186.3" y2="906.3" stroke="#000000" stroke-width="2.7"/>
<text transform="translate(201.62 913.20) scale(1.0190 1.0300)" font-size="27">500</text>
<text transform="translate(250.75 913.20) scale(1.0258 1.0000)" font-size="27">kHz</text>
<text transform="translate(306.66 913.63) scale(1.0167 1.1101)" font-size="27">(</text>
<text transform="translate(317.45 913.20) scale(1.1123 1.0000)" font-size="27">pert</text>
<text transform="translate(365.30 913.63) scale(1.0212 1.1101)" font-size="27">)</text>
</svg>
</body></html>
